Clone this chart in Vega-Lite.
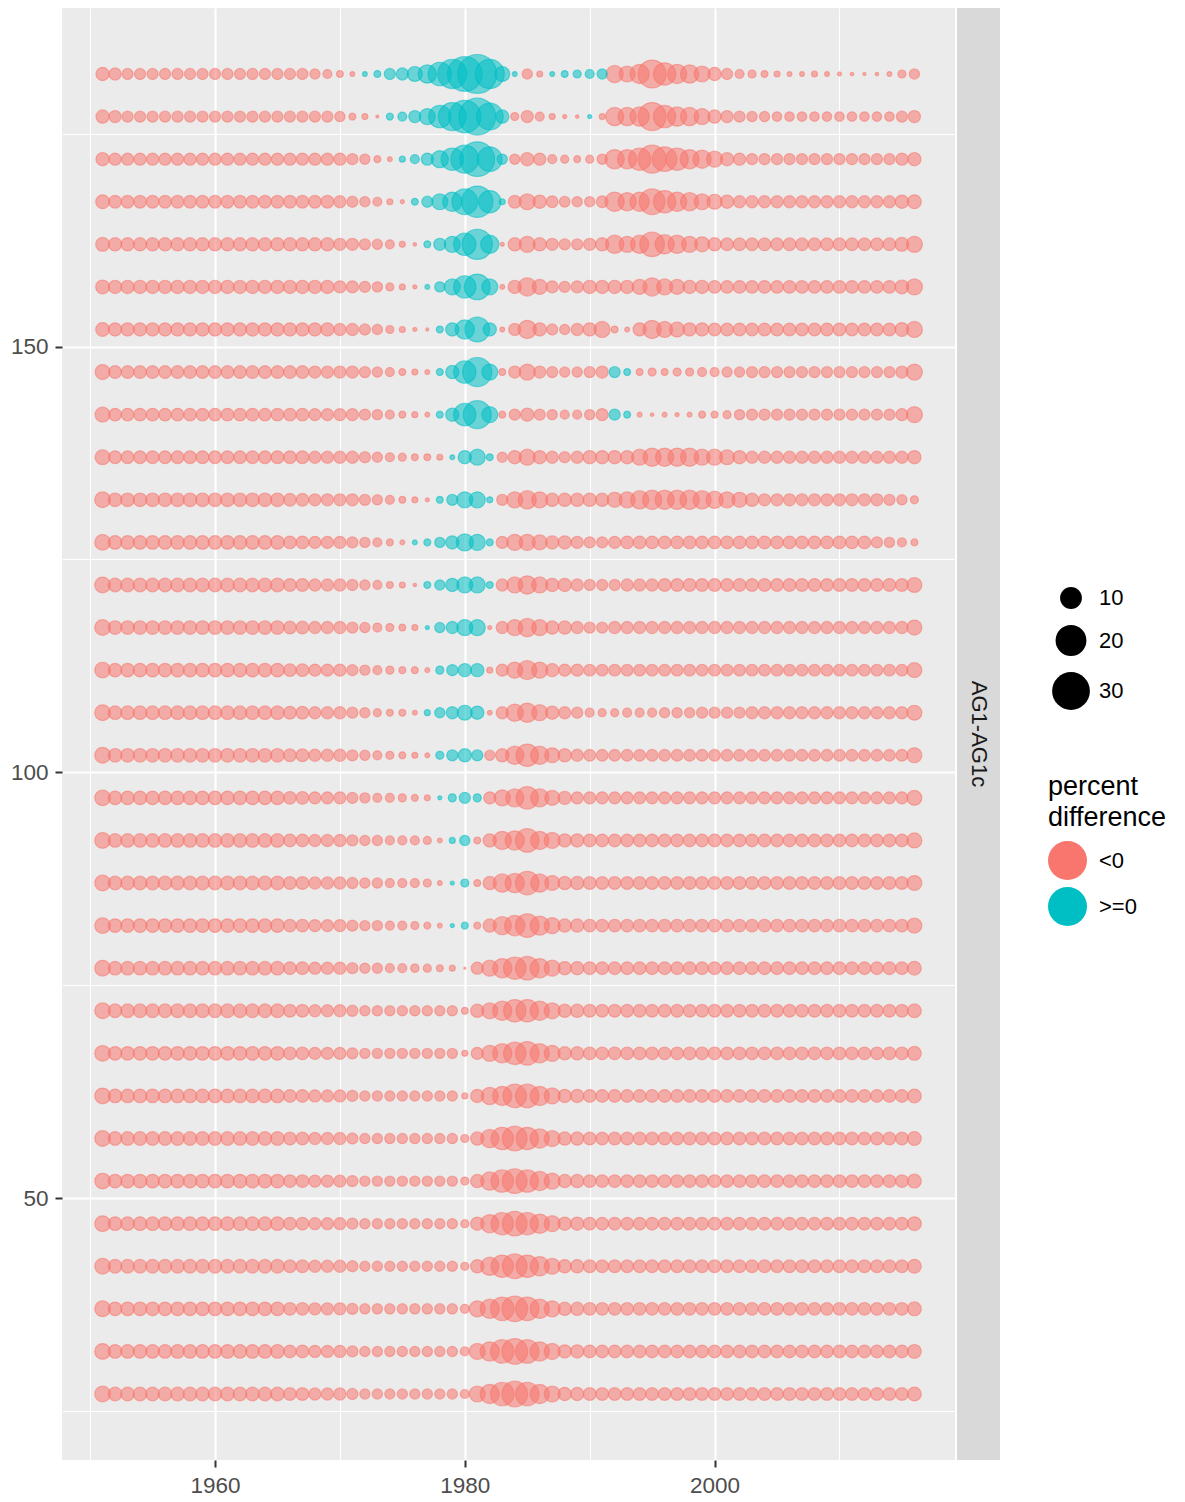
{
"$schema": "https://vega.github.io/schema/vega-lite/v6.json",
"background": "#FFFFFF",
"padding": {"left": 10, "top": 8, "right": 5, "bottom": 5},
"config": {"view": {"stroke": null}, "font": "Liberation Sans"},
"datasets": {
"neg": [
{"x":1951,"y":182,"s":3.7},{"x":1952,"y":182,"s":3.1},{"x":1953,"y":182,"s":2.6},{"x":1954,"y":182,"s":2.6},{"x":1955,"y":182,"s":2.6},{"x":1956,"y":182,"s":2.6},{"x":1957,"y":182,"s":2.6},{"x":1958,"y":182,"s":2.6},{"x":1959,"y":182,"s":2.6},{"x":1960,"y":182,"s":2.6},{"x":1961,"y":182,"s":2.6},{"x":1962,"y":182,"s":2.6},{"x":1963,"y":182,"s":2.6},{"x":1964,"y":182,"s":2.6},{"x":1965,"y":182,"s":2.6},{"x":1966,"y":182,"s":2.6},{"x":1967,"y":182,"s":2.6},{"x":1968,"y":182,"s":2.2},{"x":1969,"y":182,"s":1.7},{"x":1970,"y":182,"s":1},{"x":1971,"y":182,"s":0.5},{"x":1985,"y":182,"s":2.2},{"x":1986,"y":182,"s":0.75},{"x":1992,"y":182,"s":6.2},{"x":1993,"y":182,"s":5.4},{"x":1994,"y":182,"s":7.8},{"x":1995,"y":182,"s":16.4},{"x":1996,"y":182,"s":10.5},{"x":1997,"y":182,"s":7.8},{"x":1998,"y":182,"s":7},{"x":1999,"y":182,"s":5.4},{"x":2000,"y":182,"s":3.7},{"x":2001,"y":182,"s":2.6},{"x":2002,"y":182,"s":1.7},{"x":2003,"y":182,"s":1.35},{"x":2004,"y":182,"s":1},{"x":2005,"y":182,"s":0.75},{"x":2006,"y":182,"s":0.5},{"x":2007,"y":182,"s":0.5},{"x":2008,"y":182,"s":0.75},{"x":2009,"y":182,"s":0.5},{"x":2010,"y":182,"s":0.35},{"x":2011,"y":182,"s":0.25},{"x":2012,"y":182,"s":0.2},{"x":2013,"y":182,"s":0.25},{"x":2014,"y":182,"s":0.5},{"x":2015,"y":182,"s":1.35},{"x":2016,"y":182,"s":2.2},
{"x":1951,"y":177,"s":3.7},{"x":1952,"y":177,"s":3.1},{"x":1953,"y":177,"s":2.6},{"x":1954,"y":177,"s":2.6},{"x":1955,"y":177,"s":2.6},{"x":1956,"y":177,"s":2.6},{"x":1957,"y":177,"s":2.6},{"x":1958,"y":177,"s":2.6},{"x":1959,"y":177,"s":2.6},{"x":1960,"y":177,"s":2.6},{"x":1961,"y":177,"s":2.6},{"x":1962,"y":177,"s":2.6},{"x":1963,"y":177,"s":2.6},{"x":1964,"y":177,"s":2.6},{"x":1965,"y":177,"s":2.6},{"x":1966,"y":177,"s":2.6},{"x":1967,"y":177,"s":2.6},{"x":1968,"y":177,"s":2.6},{"x":1969,"y":177,"s":2.6},{"x":1970,"y":177,"s":2.2},{"x":1971,"y":177,"s":1},{"x":1972,"y":177,"s":0.75},{"x":1973,"y":177,"s":0.2},{"x":1984,"y":177,"s":1.35},{"x":1985,"y":177,"s":3.1},{"x":1986,"y":177,"s":1.7},{"x":1987,"y":177,"s":0.75},{"x":1988,"y":177,"s":0.35},{"x":1989,"y":177,"s":0.25},{"x":1991,"y":177,"s":0.75},{"x":1992,"y":177,"s":7},{"x":1993,"y":177,"s":7},{"x":1994,"y":177,"s":7.8},{"x":1995,"y":177,"s":16.4},{"x":1996,"y":177,"s":10.5},{"x":1997,"y":177,"s":7.8},{"x":1998,"y":177,"s":7},{"x":1999,"y":177,"s":5.4},{"x":2000,"y":177,"s":3.7},{"x":2001,"y":177,"s":3.1},{"x":2002,"y":177,"s":2.6},{"x":2003,"y":177,"s":2.2},{"x":2004,"y":177,"s":2.2},{"x":2005,"y":177,"s":1.9},{"x":2006,"y":177,"s":1.9},{"x":2007,"y":177,"s":1.9},{"x":2008,"y":177,"s":1.9},{"x":2009,"y":177,"s":1.9},{"x":2010,"y":177,"s":1.9},{"x":2011,"y":177,"s":1.9},{"x":2012,"y":177,"s":1.9},{"x":2013,"y":177,"s":1.9},{"x":2014,"y":177,"s":1.9},{"x":2015,"y":177,"s":2.6},{"x":2016,"y":177,"s":3.1},
{"x":1951,"y":172,"s":3.7},{"x":1952,"y":172,"s":3.1},{"x":1953,"y":172,"s":3.1},{"x":1954,"y":172,"s":3.1},{"x":1955,"y":172,"s":3.1},{"x":1956,"y":172,"s":3.1},{"x":1957,"y":172,"s":3.1},{"x":1958,"y":172,"s":3.1},{"x":1959,"y":172,"s":3.1},{"x":1960,"y":172,"s":3.1},{"x":1961,"y":172,"s":3.1},{"x":1962,"y":172,"s":3.1},{"x":1963,"y":172,"s":3.1},{"x":1964,"y":172,"s":3.1},{"x":1965,"y":172,"s":3.1},{"x":1966,"y":172,"s":3.1},{"x":1967,"y":172,"s":3.1},{"x":1968,"y":172,"s":3.1},{"x":1969,"y":172,"s":3.1},{"x":1970,"y":172,"s":3.1},{"x":1971,"y":172,"s":2.6},{"x":1972,"y":172,"s":2.2},{"x":1973,"y":172,"s":1},{"x":1974,"y":172,"s":0.5},{"x":1984,"y":172,"s":2.2},{"x":1985,"y":172,"s":3.7},{"x":1986,"y":172,"s":3.1},{"x":1987,"y":172,"s":1.7},{"x":1988,"y":172,"s":1.35},{"x":1989,"y":172,"s":1},{"x":1990,"y":172,"s":1.35},{"x":1991,"y":172,"s":2.2},{"x":1992,"y":172,"s":7.8},{"x":1993,"y":172,"s":7.8},{"x":1994,"y":172,"s":10.5},{"x":1995,"y":172,"s":16.4},{"x":1996,"y":172,"s":12.8},{"x":1997,"y":172,"s":10.5},{"x":1998,"y":172,"s":7.8},{"x":1999,"y":172,"s":7},{"x":2000,"y":172,"s":5.4},{"x":2001,"y":172,"s":3.7},{"x":2002,"y":172,"s":3.1},{"x":2003,"y":172,"s":2.6},{"x":2004,"y":172,"s":2.6},{"x":2005,"y":172,"s":2.6},{"x":2006,"y":172,"s":2.6},{"x":2007,"y":172,"s":2.6},{"x":2008,"y":172,"s":2.6},{"x":2009,"y":172,"s":2.6},{"x":2010,"y":172,"s":2.6},{"x":2011,"y":172,"s":2.6},{"x":2012,"y":172,"s":2.6},{"x":2013,"y":172,"s":2.6},{"x":2014,"y":172,"s":2.6},{"x":2015,"y":172,"s":3.1},{"x":2016,"y":172,"s":3.7},
{"x":1951,"y":167,"s":4},{"x":1952,"y":167,"s":3.4},{"x":1953,"y":167,"s":3.4},{"x":1954,"y":167,"s":3.4},{"x":1955,"y":167,"s":3.4},{"x":1956,"y":167,"s":3.4},{"x":1957,"y":167,"s":3.4},{"x":1958,"y":167,"s":3.4},{"x":1959,"y":167,"s":3.4},{"x":1960,"y":167,"s":3.4},{"x":1961,"y":167,"s":3.4},{"x":1962,"y":167,"s":3.4},{"x":1963,"y":167,"s":3.4},{"x":1964,"y":167,"s":3.4},{"x":1965,"y":167,"s":3.4},{"x":1966,"y":167,"s":3.4},{"x":1967,"y":167,"s":3.4},{"x":1968,"y":167,"s":3.4},{"x":1969,"y":167,"s":3.4},{"x":1970,"y":167,"s":3.1},{"x":1971,"y":167,"s":2.6},{"x":1972,"y":167,"s":2.2},{"x":1973,"y":167,"s":1.7},{"x":1974,"y":167,"s":0.75},{"x":1975,"y":167,"s":0.35},{"x":1984,"y":167,"s":3.4},{"x":1985,"y":167,"s":5.4},{"x":1986,"y":167,"s":3.7},{"x":1987,"y":167,"s":2.9},{"x":1988,"y":167,"s":2.4},{"x":1989,"y":167,"s":2.2},{"x":1990,"y":167,"s":2.2},{"x":1991,"y":167,"s":2.9},{"x":1992,"y":167,"s":7.8},{"x":1993,"y":167,"s":7},{"x":1994,"y":167,"s":7.8},{"x":1995,"y":167,"s":13.9},{"x":1996,"y":167,"s":10.5},{"x":1997,"y":167,"s":7.8},{"x":1998,"y":167,"s":7},{"x":1999,"y":167,"s":5.4},{"x":2000,"y":167,"s":4.7},{"x":2001,"y":167,"s":3.7},{"x":2002,"y":167,"s":3.1},{"x":2003,"y":167,"s":3.1},{"x":2004,"y":167,"s":3.1},{"x":2005,"y":167,"s":3.1},{"x":2006,"y":167,"s":3.1},{"x":2007,"y":167,"s":3.1},{"x":2008,"y":167,"s":3.1},{"x":2009,"y":167,"s":3.1},{"x":2010,"y":167,"s":3.1},{"x":2011,"y":167,"s":3.1},{"x":2012,"y":167,"s":3.1},{"x":2013,"y":167,"s":3.1},{"x":2014,"y":167,"s":3.1},{"x":2015,"y":167,"s":3.7},{"x":2016,"y":167,"s":4},
{"x":1951,"y":162,"s":4},{"x":1952,"y":162,"s":3.7},{"x":1953,"y":162,"s":3.7},{"x":1954,"y":162,"s":3.7},{"x":1955,"y":162,"s":3.7},{"x":1956,"y":162,"s":3.7},{"x":1957,"y":162,"s":3.7},{"x":1958,"y":162,"s":3.7},{"x":1959,"y":162,"s":3.7},{"x":1960,"y":162,"s":3.7},{"x":1961,"y":162,"s":3.7},{"x":1962,"y":162,"s":3.7},{"x":1963,"y":162,"s":3.7},{"x":1964,"y":162,"s":3.7},{"x":1965,"y":162,"s":3.7},{"x":1966,"y":162,"s":3.7},{"x":1967,"y":162,"s":3.7},{"x":1968,"y":162,"s":3.7},{"x":1969,"y":162,"s":3.7},{"x":1970,"y":162,"s":3.1},{"x":1971,"y":162,"s":3.1},{"x":1972,"y":162,"s":2.6},{"x":1973,"y":162,"s":2.2},{"x":1974,"y":162,"s":1.7},{"x":1975,"y":162,"s":0.75},{"x":1976,"y":162,"s":0.25},{"x":1983,"y":162,"s":0.35},{"x":1984,"y":162,"s":3.7},{"x":1985,"y":162,"s":5.4},{"x":1986,"y":162,"s":3.7},{"x":1987,"y":162,"s":3.1},{"x":1988,"y":162,"s":2.6},{"x":1989,"y":162,"s":2.6},{"x":1990,"y":162,"s":3.1},{"x":1991,"y":162,"s":3.7},{"x":1992,"y":162,"s":7},{"x":1993,"y":162,"s":5.4},{"x":1994,"y":162,"s":7},{"x":1995,"y":162,"s":12.8},{"x":1996,"y":162,"s":7.8},{"x":1997,"y":162,"s":7},{"x":1998,"y":162,"s":5.4},{"x":1999,"y":162,"s":4.7},{"x":2000,"y":162,"s":3.7},{"x":2001,"y":162,"s":3.4},{"x":2002,"y":162,"s":3.4},{"x":2003,"y":162,"s":3.4},{"x":2004,"y":162,"s":3.4},{"x":2005,"y":162,"s":3.4},{"x":2006,"y":162,"s":3.4},{"x":2007,"y":162,"s":3.4},{"x":2008,"y":162,"s":3.4},{"x":2009,"y":162,"s":3.4},{"x":2010,"y":162,"s":3.4},{"x":2011,"y":162,"s":3.4},{"x":2012,"y":162,"s":3.4},{"x":2013,"y":162,"s":3.4},{"x":2014,"y":162,"s":3.4},{"x":2015,"y":162,"s":4},{"x":2016,"y":162,"s":5.4},
{"x":1951,"y":157,"s":4},{"x":1952,"y":157,"s":3.7},{"x":1953,"y":157,"s":3.7},{"x":1954,"y":157,"s":3.7},{"x":1955,"y":157,"s":3.7},{"x":1956,"y":157,"s":3.7},{"x":1957,"y":157,"s":3.7},{"x":1958,"y":157,"s":3.7},{"x":1959,"y":157,"s":3.7},{"x":1960,"y":157,"s":3.7},{"x":1961,"y":157,"s":3.7},{"x":1962,"y":157,"s":3.7},{"x":1963,"y":157,"s":3.7},{"x":1964,"y":157,"s":3.7},{"x":1965,"y":157,"s":3.7},{"x":1966,"y":157,"s":3.7},{"x":1967,"y":157,"s":3.7},{"x":1968,"y":157,"s":3.7},{"x":1969,"y":157,"s":3.7},{"x":1970,"y":157,"s":3.1},{"x":1971,"y":157,"s":3.1},{"x":1972,"y":157,"s":2.6},{"x":1973,"y":157,"s":2.2},{"x":1974,"y":157,"s":1.35},{"x":1975,"y":157,"s":0.75},{"x":1976,"y":157,"s":0.35},{"x":1983,"y":157,"s":0.5},{"x":1984,"y":157,"s":3.7},{"x":1985,"y":157,"s":7},{"x":1986,"y":157,"s":4.7},{"x":1987,"y":157,"s":3.1},{"x":1988,"y":157,"s":2.6},{"x":1989,"y":157,"s":3.1},{"x":1990,"y":157,"s":3.7},{"x":1991,"y":157,"s":3.7},{"x":1992,"y":157,"s":3.7},{"x":1993,"y":157,"s":3.7},{"x":1994,"y":157,"s":4.7},{"x":1995,"y":157,"s":7},{"x":1996,"y":157,"s":5.4},{"x":1997,"y":157,"s":4.7},{"x":1998,"y":157,"s":3.7},{"x":1999,"y":157,"s":3.7},{"x":2000,"y":157,"s":3.4},{"x":2001,"y":157,"s":3.4},{"x":2002,"y":157,"s":3.4},{"x":2003,"y":157,"s":3.4},{"x":2004,"y":157,"s":3.4},{"x":2005,"y":157,"s":3.4},{"x":2006,"y":157,"s":3.4},{"x":2007,"y":157,"s":3.4},{"x":2008,"y":157,"s":3.4},{"x":2009,"y":157,"s":3.4},{"x":2010,"y":157,"s":3.4},{"x":2011,"y":157,"s":3.4},{"x":2012,"y":157,"s":3.4},{"x":2013,"y":157,"s":3.4},{"x":2014,"y":157,"s":3.4},{"x":2015,"y":157,"s":4},{"x":2016,"y":157,"s":5.4},
{"x":1951,"y":152,"s":4},{"x":1952,"y":152,"s":3.7},{"x":1953,"y":152,"s":3.7},{"x":1954,"y":152,"s":3.7},{"x":1955,"y":152,"s":3.7},{"x":1956,"y":152,"s":3.7},{"x":1957,"y":152,"s":3.7},{"x":1958,"y":152,"s":3.7},{"x":1959,"y":152,"s":3.7},{"x":1960,"y":152,"s":3.7},{"x":1961,"y":152,"s":3.7},{"x":1962,"y":152,"s":3.7},{"x":1963,"y":152,"s":3.7},{"x":1964,"y":152,"s":3.7},{"x":1965,"y":152,"s":3.7},{"x":1966,"y":152,"s":3.7},{"x":1967,"y":152,"s":3.7},{"x":1968,"y":152,"s":3.7},{"x":1969,"y":152,"s":3.7},{"x":1970,"y":152,"s":3.1},{"x":1971,"y":152,"s":3.1},{"x":1972,"y":152,"s":2.6},{"x":1973,"y":152,"s":2.2},{"x":1974,"y":152,"s":1.35},{"x":1975,"y":152,"s":0.75},{"x":1976,"y":152,"s":0.35},{"x":1977,"y":152,"s":0.2},{"x":1983,"y":152,"s":0.5},{"x":1984,"y":152,"s":3.1},{"x":1985,"y":152,"s":7},{"x":1986,"y":152,"s":3.7},{"x":1987,"y":152,"s":2.6},{"x":1988,"y":152,"s":2.2},{"x":1989,"y":152,"s":3.1},{"x":1990,"y":152,"s":3.7},{"x":1991,"y":152,"s":5.4},{"x":1992,"y":152,"s":1},{"x":1993,"y":152,"s":0.5},{"x":1994,"y":152,"s":3.7},{"x":1995,"y":152,"s":7},{"x":1996,"y":152,"s":5.4},{"x":1997,"y":152,"s":4.7},{"x":1998,"y":152,"s":3.7},{"x":1999,"y":152,"s":3.7},{"x":2000,"y":152,"s":3.4},{"x":2001,"y":152,"s":3.4},{"x":2002,"y":152,"s":3.4},{"x":2003,"y":152,"s":3.4},{"x":2004,"y":152,"s":3.4},{"x":2005,"y":152,"s":3.4},{"x":2006,"y":152,"s":3.4},{"x":2007,"y":152,"s":3.4},{"x":2008,"y":152,"s":3.4},{"x":2009,"y":152,"s":3.4},{"x":2010,"y":152,"s":3.4},{"x":2011,"y":152,"s":3.4},{"x":2012,"y":152,"s":3.4},{"x":2013,"y":152,"s":3.4},{"x":2014,"y":152,"s":3.4},{"x":2015,"y":152,"s":4},{"x":2016,"y":152,"s":5.4},
{"x":1951,"y":147,"s":4.7},{"x":1952,"y":147,"s":3.4},{"x":1953,"y":147,"s":3.4},{"x":1954,"y":147,"s":3.4},{"x":1955,"y":147,"s":3.4},{"x":1956,"y":147,"s":3.4},{"x":1957,"y":147,"s":3.4},{"x":1958,"y":147,"s":3.4},{"x":1959,"y":147,"s":3.4},{"x":1960,"y":147,"s":3.4},{"x":1961,"y":147,"s":3.4},{"x":1962,"y":147,"s":3.4},{"x":1963,"y":147,"s":3.4},{"x":1964,"y":147,"s":3.4},{"x":1965,"y":147,"s":3.4},{"x":1966,"y":147,"s":3.4},{"x":1967,"y":147,"s":3.4},{"x":1968,"y":147,"s":3.1},{"x":1969,"y":147,"s":3.1},{"x":1970,"y":147,"s":3.1},{"x":1971,"y":147,"s":3.1},{"x":1972,"y":147,"s":2.6},{"x":1973,"y":147,"s":2.2},{"x":1974,"y":147,"s":1.7},{"x":1975,"y":147,"s":1},{"x":1976,"y":147,"s":0.75},{"x":1977,"y":147,"s":0.5},{"x":1983,"y":147,"s":1},{"x":1984,"y":147,"s":3.1},{"x":1985,"y":147,"s":5.4},{"x":1986,"y":147,"s":3.1},{"x":1987,"y":147,"s":2.6},{"x":1988,"y":147,"s":2.2},{"x":1989,"y":147,"s":2.2},{"x":1990,"y":147,"s":2.6},{"x":1991,"y":147,"s":3.1},{"x":1994,"y":147,"s":1},{"x":1995,"y":147,"s":1.35},{"x":1996,"y":147,"s":1},{"x":1997,"y":147,"s":1.35},{"x":1998,"y":147,"s":1.35},{"x":1999,"y":147,"s":1.7},{"x":2000,"y":147,"s":1.7},{"x":2001,"y":147,"s":2.2},{"x":2002,"y":147,"s":2.2},{"x":2003,"y":147,"s":2.6},{"x":2004,"y":147,"s":2.6},{"x":2005,"y":147,"s":2.6},{"x":2006,"y":147,"s":2.6},{"x":2007,"y":147,"s":2.6},{"x":2008,"y":147,"s":2.6},{"x":2009,"y":147,"s":2.6},{"x":2010,"y":147,"s":2.6},{"x":2011,"y":147,"s":2.6},{"x":2012,"y":147,"s":2.6},{"x":2013,"y":147,"s":2.6},{"x":2014,"y":147,"s":2.6},{"x":2015,"y":147,"s":3.1},{"x":2016,"y":147,"s":5.4},
{"x":1951,"y":142,"s":4.7},{"x":1952,"y":142,"s":3.4},{"x":1953,"y":142,"s":3.4},{"x":1954,"y":142,"s":3.4},{"x":1955,"y":142,"s":3.4},{"x":1956,"y":142,"s":3.4},{"x":1957,"y":142,"s":3.4},{"x":1958,"y":142,"s":3.4},{"x":1959,"y":142,"s":3.4},{"x":1960,"y":142,"s":3.4},{"x":1961,"y":142,"s":3.4},{"x":1962,"y":142,"s":3.4},{"x":1963,"y":142,"s":3.4},{"x":1964,"y":142,"s":3.4},{"x":1965,"y":142,"s":3.4},{"x":1966,"y":142,"s":3.4},{"x":1967,"y":142,"s":3.4},{"x":1968,"y":142,"s":3.1},{"x":1969,"y":142,"s":3.1},{"x":1970,"y":142,"s":3.1},{"x":1971,"y":142,"s":3.1},{"x":1972,"y":142,"s":2.6},{"x":1973,"y":142,"s":2.2},{"x":1974,"y":142,"s":1.7},{"x":1975,"y":142,"s":1},{"x":1976,"y":142,"s":0.75},{"x":1977,"y":142,"s":0.5},{"x":1983,"y":142,"s":1},{"x":1984,"y":142,"s":2.6},{"x":1985,"y":142,"s":3.7},{"x":1986,"y":142,"s":2.6},{"x":1987,"y":142,"s":2.2},{"x":1988,"y":142,"s":1.7},{"x":1989,"y":142,"s":1.7},{"x":1990,"y":142,"s":2.2},{"x":1991,"y":142,"s":3.1},{"x":1994,"y":142,"s":0.5},{"x":1995,"y":142,"s":0.25},{"x":1996,"y":142,"s":0.5},{"x":1997,"y":142,"s":0.35},{"x":1998,"y":142,"s":0.5},{"x":1999,"y":142,"s":1},{"x":2000,"y":142,"s":1},{"x":2001,"y":142,"s":1.35},{"x":2002,"y":142,"s":2.2},{"x":2003,"y":142,"s":2.6},{"x":2004,"y":142,"s":2.6},{"x":2005,"y":142,"s":2.6},{"x":2006,"y":142,"s":2.6},{"x":2007,"y":142,"s":2.6},{"x":2008,"y":142,"s":2.6},{"x":2009,"y":142,"s":2.6},{"x":2010,"y":142,"s":2.6},{"x":2011,"y":142,"s":2.6},{"x":2012,"y":142,"s":2.6},{"x":2013,"y":142,"s":2.6},{"x":2014,"y":142,"s":2.6},{"x":2015,"y":142,"s":3.1},{"x":2016,"y":142,"s":5.4},
{"x":1951,"y":137,"s":4.7},{"x":1952,"y":137,"s":3.4},{"x":1953,"y":137,"s":3.4},{"x":1954,"y":137,"s":3.4},{"x":1955,"y":137,"s":3.4},{"x":1956,"y":137,"s":3.4},{"x":1957,"y":137,"s":3.4},{"x":1958,"y":137,"s":3.4},{"x":1959,"y":137,"s":3.4},{"x":1960,"y":137,"s":3.4},{"x":1961,"y":137,"s":3.4},{"x":1962,"y":137,"s":3.4},{"x":1963,"y":137,"s":3.4},{"x":1964,"y":137,"s":3.4},{"x":1965,"y":137,"s":3.4},{"x":1966,"y":137,"s":3.4},{"x":1967,"y":137,"s":3.4},{"x":1968,"y":137,"s":3.1},{"x":1969,"y":137,"s":3.1},{"x":1970,"y":137,"s":3.1},{"x":1971,"y":137,"s":3.1},{"x":1972,"y":137,"s":2.6},{"x":1973,"y":137,"s":2.2},{"x":1974,"y":137,"s":1.7},{"x":1975,"y":137,"s":1.35},{"x":1976,"y":137,"s":1},{"x":1977,"y":137,"s":1},{"x":1978,"y":137,"s":0.75},{"x":1983,"y":137,"s":2.2},{"x":1984,"y":137,"s":3.7},{"x":1985,"y":137,"s":5.4},{"x":1986,"y":137,"s":3.7},{"x":1987,"y":137,"s":3.1},{"x":1988,"y":137,"s":2.6},{"x":1989,"y":137,"s":3.1},{"x":1990,"y":137,"s":3.7},{"x":1991,"y":137,"s":3.7},{"x":1992,"y":137,"s":3.7},{"x":1993,"y":137,"s":3.7},{"x":1994,"y":137,"s":5.4},{"x":1995,"y":137,"s":7},{"x":1996,"y":137,"s":7},{"x":1997,"y":137,"s":7},{"x":1998,"y":137,"s":7},{"x":1999,"y":137,"s":5.4},{"x":2000,"y":137,"s":5.4},{"x":2001,"y":137,"s":4.7},{"x":2002,"y":137,"s":3.7},{"x":2003,"y":137,"s":3.1},{"x":2004,"y":137,"s":3.1},{"x":2005,"y":137,"s":3.1},{"x":2006,"y":137,"s":3.1},{"x":2007,"y":137,"s":3.1},{"x":2008,"y":137,"s":3.1},{"x":2009,"y":137,"s":3.1},{"x":2010,"y":137,"s":3.1},{"x":2011,"y":137,"s":3.1},{"x":2012,"y":137,"s":3.1},{"x":2013,"y":137,"s":3.1},{"x":2014,"y":137,"s":3.1},{"x":2015,"y":137,"s":3.1},{"x":2016,"y":137,"s":3.7},
{"x":1951,"y":132,"s":5.2},{"x":1952,"y":132,"s":3.9},{"x":1953,"y":132,"s":3.9},{"x":1954,"y":132,"s":3.9},{"x":1955,"y":132,"s":3.9},{"x":1956,"y":132,"s":3.9},{"x":1957,"y":132,"s":3.9},{"x":1958,"y":132,"s":3.9},{"x":1959,"y":132,"s":3.9},{"x":1960,"y":132,"s":3.9},{"x":1961,"y":132,"s":3.9},{"x":1962,"y":132,"s":3.9},{"x":1963,"y":132,"s":3.9},{"x":1964,"y":132,"s":3.9},{"x":1965,"y":132,"s":3.9},{"x":1966,"y":132,"s":3.4},{"x":1967,"y":132,"s":3.4},{"x":1968,"y":132,"s":3.1},{"x":1969,"y":132,"s":3.1},{"x":1970,"y":132,"s":3.1},{"x":1971,"y":132,"s":3.1},{"x":1972,"y":132,"s":2.6},{"x":1973,"y":132,"s":2.2},{"x":1974,"y":132,"s":1.7},{"x":1975,"y":132,"s":1},{"x":1976,"y":132,"s":0.75},{"x":1977,"y":132,"s":0.35},{"x":1983,"y":132,"s":2.6},{"x":1984,"y":132,"s":5.4},{"x":1985,"y":132,"s":7},{"x":1986,"y":132,"s":5.4},{"x":1987,"y":132,"s":3.7},{"x":1988,"y":132,"s":3.7},{"x":1989,"y":132,"s":3.7},{"x":1990,"y":132,"s":3.7},{"x":1991,"y":132,"s":3.7},{"x":1992,"y":132,"s":4.7},{"x":1993,"y":132,"s":5.4},{"x":1994,"y":132,"s":7},{"x":1995,"y":132,"s":7.8},{"x":1996,"y":132,"s":7.8},{"x":1997,"y":132,"s":7.8},{"x":1998,"y":132,"s":7.8},{"x":1999,"y":132,"s":7},{"x":2000,"y":132,"s":6.2},{"x":2001,"y":132,"s":5.4},{"x":2002,"y":132,"s":4.7},{"x":2003,"y":132,"s":3.7},{"x":2004,"y":132,"s":3.1},{"x":2005,"y":132,"s":3.1},{"x":2006,"y":132,"s":3.1},{"x":2007,"y":132,"s":3.1},{"x":2008,"y":132,"s":3.1},{"x":2009,"y":132,"s":3.1},{"x":2010,"y":132,"s":3.1},{"x":2011,"y":132,"s":3.1},{"x":2012,"y":132,"s":3.1},{"x":2013,"y":132,"s":3.1},{"x":2014,"y":132,"s":2.6},{"x":2015,"y":132,"s":2.2},{"x":2016,"y":132,"s":1.35},
{"x":1951,"y":127,"s":5.2},{"x":1952,"y":127,"s":3.9},{"x":1953,"y":127,"s":3.9},{"x":1954,"y":127,"s":3.9},{"x":1955,"y":127,"s":3.9},{"x":1956,"y":127,"s":3.9},{"x":1957,"y":127,"s":3.9},{"x":1958,"y":127,"s":3.9},{"x":1959,"y":127,"s":3.9},{"x":1960,"y":127,"s":3.9},{"x":1961,"y":127,"s":3.9},{"x":1962,"y":127,"s":3.9},{"x":1963,"y":127,"s":3.9},{"x":1964,"y":127,"s":3.9},{"x":1965,"y":127,"s":3.9},{"x":1966,"y":127,"s":3.4},{"x":1967,"y":127,"s":3.4},{"x":1968,"y":127,"s":3.1},{"x":1969,"y":127,"s":3.1},{"x":1970,"y":127,"s":3.1},{"x":1971,"y":127,"s":2.6},{"x":1972,"y":127,"s":2.2},{"x":1973,"y":127,"s":1.7},{"x":1974,"y":127,"s":1},{"x":1975,"y":127,"s":0.5},{"x":1983,"y":127,"s":3.1},{"x":1984,"y":127,"s":5.4},{"x":1985,"y":127,"s":5.4},{"x":1986,"y":127,"s":4.7},{"x":1987,"y":127,"s":3.7},{"x":1988,"y":127,"s":3.7},{"x":1989,"y":127,"s":3.1},{"x":1990,"y":127,"s":2.6},{"x":1991,"y":127,"s":2.6},{"x":1992,"y":127,"s":3.1},{"x":1993,"y":127,"s":3.4},{"x":1994,"y":127,"s":3.4},{"x":1995,"y":127,"s":3.4},{"x":1996,"y":127,"s":3.4},{"x":1997,"y":127,"s":3.4},{"x":1998,"y":127,"s":3.4},{"x":1999,"y":127,"s":3.4},{"x":2000,"y":127,"s":3.4},{"x":2001,"y":127,"s":3.4},{"x":2002,"y":127,"s":3.4},{"x":2003,"y":127,"s":3.4},{"x":2004,"y":127,"s":3.4},{"x":2005,"y":127,"s":3.4},{"x":2006,"y":127,"s":3.4},{"x":2007,"y":127,"s":3.4},{"x":2008,"y":127,"s":3.4},{"x":2009,"y":127,"s":3.4},{"x":2010,"y":127,"s":3.4},{"x":2011,"y":127,"s":3.4},{"x":2012,"y":127,"s":3.4},{"x":2013,"y":127,"s":2.6},{"x":2014,"y":127,"s":2.2},{"x":2015,"y":127,"s":1.7},{"x":2016,"y":127,"s":1},
{"x":1951,"y":122,"s":5.2},{"x":1952,"y":122,"s":3.9},{"x":1953,"y":122,"s":3.9},{"x":1954,"y":122,"s":3.9},{"x":1955,"y":122,"s":3.9},{"x":1956,"y":122,"s":3.9},{"x":1957,"y":122,"s":3.9},{"x":1958,"y":122,"s":3.9},{"x":1959,"y":122,"s":3.9},{"x":1960,"y":122,"s":3.9},{"x":1961,"y":122,"s":3.9},{"x":1962,"y":122,"s":3.9},{"x":1963,"y":122,"s":3.9},{"x":1964,"y":122,"s":3.9},{"x":1965,"y":122,"s":3.9},{"x":1966,"y":122,"s":3.4},{"x":1967,"y":122,"s":3.4},{"x":1968,"y":122,"s":3.1},{"x":1969,"y":122,"s":3.1},{"x":1970,"y":122,"s":3.1},{"x":1971,"y":122,"s":2.6},{"x":1972,"y":122,"s":2.2},{"x":1973,"y":122,"s":1.7},{"x":1974,"y":122,"s":1},{"x":1975,"y":122,"s":0.75},{"x":1976,"y":122,"s":0.25},{"x":1983,"y":122,"s":3.1},{"x":1984,"y":122,"s":5.4},{"x":1985,"y":122,"s":7},{"x":1986,"y":122,"s":5.4},{"x":1987,"y":122,"s":3.7},{"x":1988,"y":122,"s":3.7},{"x":1989,"y":122,"s":3.1},{"x":1990,"y":122,"s":2.6},{"x":1991,"y":122,"s":2.6},{"x":1992,"y":122,"s":2.6},{"x":1993,"y":122,"s":3.1},{"x":1994,"y":122,"s":3.1},{"x":1995,"y":122,"s":3.1},{"x":1996,"y":122,"s":3.4},{"x":1997,"y":122,"s":3.4},{"x":1998,"y":122,"s":3.4},{"x":1999,"y":122,"s":3.4},{"x":2000,"y":122,"s":3.4},{"x":2001,"y":122,"s":3.4},{"x":2002,"y":122,"s":3.4},{"x":2003,"y":122,"s":3.4},{"x":2004,"y":122,"s":3.4},{"x":2005,"y":122,"s":3.4},{"x":2006,"y":122,"s":3.4},{"x":2007,"y":122,"s":3.4},{"x":2008,"y":122,"s":3.4},{"x":2009,"y":122,"s":3.4},{"x":2010,"y":122,"s":3.4},{"x":2011,"y":122,"s":3.4},{"x":2012,"y":122,"s":3.4},{"x":2013,"y":122,"s":3.4},{"x":2014,"y":122,"s":3.4},{"x":2015,"y":122,"s":3.4},{"x":2016,"y":122,"s":4.7},
{"x":1951,"y":117,"s":5.2},{"x":1952,"y":117,"s":3.9},{"x":1953,"y":117,"s":3.9},{"x":1954,"y":117,"s":3.9},{"x":1955,"y":117,"s":3.9},{"x":1956,"y":117,"s":3.9},{"x":1957,"y":117,"s":3.9},{"x":1958,"y":117,"s":3.9},{"x":1959,"y":117,"s":3.9},{"x":1960,"y":117,"s":3.9},{"x":1961,"y":117,"s":3.9},{"x":1962,"y":117,"s":3.9},{"x":1963,"y":117,"s":3.9},{"x":1964,"y":117,"s":3.9},{"x":1965,"y":117,"s":3.9},{"x":1966,"y":117,"s":3.4},{"x":1967,"y":117,"s":3.4},{"x":1968,"y":117,"s":3.1},{"x":1969,"y":117,"s":3.1},{"x":1970,"y":117,"s":3.1},{"x":1971,"y":117,"s":2.6},{"x":1972,"y":117,"s":2.2},{"x":1973,"y":117,"s":1.7},{"x":1974,"y":117,"s":1.35},{"x":1975,"y":117,"s":1},{"x":1976,"y":117,"s":0.75},{"x":1982,"y":117,"s":0.35},{"x":1983,"y":117,"s":3.1},{"x":1984,"y":117,"s":5.4},{"x":1985,"y":117,"s":7},{"x":1986,"y":117,"s":5.4},{"x":1987,"y":117,"s":3.7},{"x":1988,"y":117,"s":3.7},{"x":1989,"y":117,"s":3.1},{"x":1990,"y":117,"s":2.6},{"x":1991,"y":117,"s":2.6},{"x":1992,"y":117,"s":3.1},{"x":1993,"y":117,"s":3.1},{"x":1994,"y":117,"s":3.1},{"x":1995,"y":117,"s":3.1},{"x":1996,"y":117,"s":3.1},{"x":1997,"y":117,"s":3.1},{"x":1998,"y":117,"s":3.1},{"x":1999,"y":117,"s":3.1},{"x":2000,"y":117,"s":3.1},{"x":2001,"y":117,"s":3.1},{"x":2002,"y":117,"s":3.1},{"x":2003,"y":117,"s":3.1},{"x":2004,"y":117,"s":3.1},{"x":2005,"y":117,"s":3.1},{"x":2006,"y":117,"s":3.1},{"x":2007,"y":117,"s":3.1},{"x":2008,"y":117,"s":3.1},{"x":2009,"y":117,"s":3.1},{"x":2010,"y":117,"s":3.1},{"x":2011,"y":117,"s":3.1},{"x":2012,"y":117,"s":3.1},{"x":2013,"y":117,"s":3.1},{"x":2014,"y":117,"s":3.1},{"x":2015,"y":117,"s":3.1},{"x":2016,"y":117,"s":4.7},
{"x":1951,"y":112,"s":5.2},{"x":1952,"y":112,"s":3.9},{"x":1953,"y":112,"s":3.9},{"x":1954,"y":112,"s":3.9},{"x":1955,"y":112,"s":3.9},{"x":1956,"y":112,"s":3.9},{"x":1957,"y":112,"s":3.9},{"x":1958,"y":112,"s":3.9},{"x":1959,"y":112,"s":3.9},{"x":1960,"y":112,"s":3.9},{"x":1961,"y":112,"s":3.9},{"x":1962,"y":112,"s":3.9},{"x":1963,"y":112,"s":3.9},{"x":1964,"y":112,"s":3.9},{"x":1965,"y":112,"s":3.9},{"x":1966,"y":112,"s":3.4},{"x":1967,"y":112,"s":3.4},{"x":1968,"y":112,"s":3.1},{"x":1969,"y":112,"s":3.1},{"x":1970,"y":112,"s":3.1},{"x":1971,"y":112,"s":2.6},{"x":1972,"y":112,"s":2.2},{"x":1973,"y":112,"s":1.7},{"x":1974,"y":112,"s":1.35},{"x":1975,"y":112,"s":1},{"x":1976,"y":112,"s":1},{"x":1977,"y":112,"s":0.5},{"x":1982,"y":112,"s":0.75},{"x":1983,"y":112,"s":3.1},{"x":1984,"y":112,"s":5.4},{"x":1985,"y":112,"s":7.8},{"x":1986,"y":112,"s":5.4},{"x":1987,"y":112,"s":3.7},{"x":1988,"y":112,"s":3.1},{"x":1989,"y":112,"s":3.1},{"x":1990,"y":112,"s":2.9},{"x":1991,"y":112,"s":2.9},{"x":1992,"y":112,"s":2.9},{"x":1993,"y":112,"s":2.9},{"x":1994,"y":112,"s":2.9},{"x":1995,"y":112,"s":2.9},{"x":1996,"y":112,"s":2.9},{"x":1997,"y":112,"s":2.9},{"x":1998,"y":112,"s":2.9},{"x":1999,"y":112,"s":2.9},{"x":2000,"y":112,"s":2.9},{"x":2001,"y":112,"s":2.9},{"x":2002,"y":112,"s":2.9},{"x":2003,"y":112,"s":2.9},{"x":2004,"y":112,"s":2.9},{"x":2005,"y":112,"s":2.9},{"x":2006,"y":112,"s":2.9},{"x":2007,"y":112,"s":2.9},{"x":2008,"y":112,"s":2.9},{"x":2009,"y":112,"s":2.9},{"x":2010,"y":112,"s":2.9},{"x":2011,"y":112,"s":2.9},{"x":2012,"y":112,"s":2.9},{"x":2013,"y":112,"s":2.9},{"x":2014,"y":112,"s":2.9},{"x":2015,"y":112,"s":2.9},{"x":2016,"y":112,"s":4.7},
{"x":1951,"y":107,"s":5.2},{"x":1952,"y":107,"s":3.9},{"x":1953,"y":107,"s":3.9},{"x":1954,"y":107,"s":3.9},{"x":1955,"y":107,"s":3.9},{"x":1956,"y":107,"s":3.9},{"x":1957,"y":107,"s":3.9},{"x":1958,"y":107,"s":3.9},{"x":1959,"y":107,"s":3.9},{"x":1960,"y":107,"s":3.9},{"x":1961,"y":107,"s":3.9},{"x":1962,"y":107,"s":3.9},{"x":1963,"y":107,"s":3.9},{"x":1964,"y":107,"s":3.9},{"x":1965,"y":107,"s":3.9},{"x":1966,"y":107,"s":3.4},{"x":1967,"y":107,"s":3.4},{"x":1968,"y":107,"s":3.1},{"x":1969,"y":107,"s":3.1},{"x":1970,"y":107,"s":3.1},{"x":1971,"y":107,"s":2.6},{"x":1972,"y":107,"s":2.2},{"x":1973,"y":107,"s":1.35},{"x":1974,"y":107,"s":1},{"x":1975,"y":107,"s":1},{"x":1976,"y":107,"s":0.5},{"x":1982,"y":107,"s":0.5},{"x":1983,"y":107,"s":3.1},{"x":1984,"y":107,"s":6.2},{"x":1985,"y":107,"s":7.8},{"x":1986,"y":107,"s":5.4},{"x":1987,"y":107,"s":3.7},{"x":1988,"y":107,"s":3.1},{"x":1989,"y":107,"s":2.6},{"x":1990,"y":107,"s":1.7},{"x":1991,"y":107,"s":1.35},{"x":1992,"y":107,"s":1.35},{"x":1993,"y":107,"s":1.7},{"x":1994,"y":107,"s":1.7},{"x":1995,"y":107,"s":1.7},{"x":1996,"y":107,"s":2.2},{"x":1997,"y":107,"s":2.2},{"x":1998,"y":107,"s":2.2},{"x":1999,"y":107,"s":2.6},{"x":2000,"y":107,"s":2.6},{"x":2001,"y":107,"s":2.6},{"x":2002,"y":107,"s":2.6},{"x":2003,"y":107,"s":3.1},{"x":2004,"y":107,"s":3.1},{"x":2005,"y":107,"s":3.1},{"x":2006,"y":107,"s":3.1},{"x":2007,"y":107,"s":3.1},{"x":2008,"y":107,"s":3.1},{"x":2009,"y":107,"s":3.1},{"x":2010,"y":107,"s":3.1},{"x":2011,"y":107,"s":3.1},{"x":2012,"y":107,"s":3.1},{"x":2013,"y":107,"s":3.1},{"x":2014,"y":107,"s":3.1},{"x":2015,"y":107,"s":3.1},{"x":2016,"y":107,"s":4.7},
{"x":1951,"y":102,"s":5.2},{"x":1952,"y":102,"s":3.9},{"x":1953,"y":102,"s":3.9},{"x":1954,"y":102,"s":3.9},{"x":1955,"y":102,"s":3.9},{"x":1956,"y":102,"s":3.9},{"x":1957,"y":102,"s":3.9},{"x":1958,"y":102,"s":3.9},{"x":1959,"y":102,"s":3.9},{"x":1960,"y":102,"s":3.9},{"x":1961,"y":102,"s":3.9},{"x":1962,"y":102,"s":3.9},{"x":1963,"y":102,"s":3.9},{"x":1964,"y":102,"s":3.9},{"x":1965,"y":102,"s":3.9},{"x":1966,"y":102,"s":3.4},{"x":1967,"y":102,"s":3.4},{"x":1968,"y":102,"s":3.1},{"x":1969,"y":102,"s":3.1},{"x":1970,"y":102,"s":3.1},{"x":1971,"y":102,"s":2.6},{"x":1972,"y":102,"s":2.2},{"x":1973,"y":102,"s":1.7},{"x":1974,"y":102,"s":1.35},{"x":1975,"y":102,"s":1},{"x":1976,"y":102,"s":0.75},{"x":1977,"y":102,"s":0.5},{"x":1982,"y":102,"s":2.2},{"x":1983,"y":102,"s":3.7},{"x":1984,"y":102,"s":7},{"x":1985,"y":102,"s":10.5},{"x":1986,"y":102,"s":7},{"x":1987,"y":102,"s":4.7},{"x":1988,"y":102,"s":3.7},{"x":1989,"y":102,"s":3.1},{"x":1990,"y":102,"s":2.9},{"x":1991,"y":102,"s":2.9},{"x":1992,"y":102,"s":2.9},{"x":1993,"y":102,"s":2.9},{"x":1994,"y":102,"s":2.9},{"x":1995,"y":102,"s":2.9},{"x":1996,"y":102,"s":2.9},{"x":1997,"y":102,"s":2.9},{"x":1998,"y":102,"s":2.9},{"x":1999,"y":102,"s":2.9},{"x":2000,"y":102,"s":2.9},{"x":2001,"y":102,"s":2.9},{"x":2002,"y":102,"s":2.9},{"x":2003,"y":102,"s":2.9},{"x":2004,"y":102,"s":2.9},{"x":2005,"y":102,"s":2.9},{"x":2006,"y":102,"s":2.9},{"x":2007,"y":102,"s":2.9},{"x":2008,"y":102,"s":2.9},{"x":2009,"y":102,"s":2.9},{"x":2010,"y":102,"s":2.9},{"x":2011,"y":102,"s":2.9},{"x":2012,"y":102,"s":2.9},{"x":2013,"y":102,"s":2.9},{"x":2014,"y":102,"s":2.9},{"x":2015,"y":102,"s":2.9},{"x":2016,"y":102,"s":4.7},
{"x":1951,"y":97,"s":5.2},{"x":1952,"y":97,"s":3.9},{"x":1953,"y":97,"s":3.9},{"x":1954,"y":97,"s":3.9},{"x":1955,"y":97,"s":3.9},{"x":1956,"y":97,"s":3.9},{"x":1957,"y":97,"s":3.9},{"x":1958,"y":97,"s":3.9},{"x":1959,"y":97,"s":3.9},{"x":1960,"y":97,"s":3.9},{"x":1961,"y":97,"s":3.9},{"x":1962,"y":97,"s":3.9},{"x":1963,"y":97,"s":3.9},{"x":1964,"y":97,"s":3.9},{"x":1965,"y":97,"s":3.9},{"x":1966,"y":97,"s":3.4},{"x":1967,"y":97,"s":3.4},{"x":1968,"y":97,"s":3.1},{"x":1969,"y":97,"s":3.1},{"x":1970,"y":97,"s":3.1},{"x":1971,"y":97,"s":2.6},{"x":1972,"y":97,"s":2.2},{"x":1973,"y":97,"s":1.7},{"x":1974,"y":97,"s":1.7},{"x":1975,"y":97,"s":1.35},{"x":1976,"y":97,"s":1},{"x":1977,"y":97,"s":0.75},{"x":1982,"y":97,"s":3.1},{"x":1983,"y":97,"s":5.4},{"x":1984,"y":97,"s":7},{"x":1985,"y":97,"s":10.5},{"x":1986,"y":97,"s":7},{"x":1987,"y":97,"s":4.7},{"x":1988,"y":97,"s":3.7},{"x":1989,"y":97,"s":3.1},{"x":1990,"y":97,"s":3.1},{"x":1991,"y":97,"s":3.1},{"x":1992,"y":97,"s":3.1},{"x":1993,"y":97,"s":3.1},{"x":1994,"y":97,"s":3.1},{"x":1995,"y":97,"s":3.1},{"x":1996,"y":97,"s":3.1},{"x":1997,"y":97,"s":3.1},{"x":1998,"y":97,"s":3.1},{"x":1999,"y":97,"s":3.1},{"x":2000,"y":97,"s":3.1},{"x":2001,"y":97,"s":3.1},{"x":2002,"y":97,"s":3.1},{"x":2003,"y":97,"s":3.1},{"x":2004,"y":97,"s":3.1},{"x":2005,"y":97,"s":3.1},{"x":2006,"y":97,"s":3.1},{"x":2007,"y":97,"s":3.1},{"x":2008,"y":97,"s":3.1},{"x":2009,"y":97,"s":3.1},{"x":2010,"y":97,"s":3.1},{"x":2011,"y":97,"s":3.1},{"x":2012,"y":97,"s":3.1},{"x":2013,"y":97,"s":3.1},{"x":2014,"y":97,"s":3.1},{"x":2015,"y":97,"s":3.1},{"x":2016,"y":97,"s":4.7},
{"x":1951,"y":92,"s":5.2},{"x":1952,"y":92,"s":3.9},{"x":1953,"y":92,"s":3.9},{"x":1954,"y":92,"s":3.9},{"x":1955,"y":92,"s":3.9},{"x":1956,"y":92,"s":3.9},{"x":1957,"y":92,"s":3.9},{"x":1958,"y":92,"s":3.9},{"x":1959,"y":92,"s":3.9},{"x":1960,"y":92,"s":3.9},{"x":1961,"y":92,"s":3.9},{"x":1962,"y":92,"s":3.9},{"x":1963,"y":92,"s":3.9},{"x":1964,"y":92,"s":3.9},{"x":1965,"y":92,"s":3.9},{"x":1966,"y":92,"s":3.4},{"x":1967,"y":92,"s":3.4},{"x":1968,"y":92,"s":3.1},{"x":1969,"y":92,"s":3.1},{"x":1970,"y":92,"s":3.1},{"x":1971,"y":92,"s":2.6},{"x":1972,"y":92,"s":2.2},{"x":1973,"y":92,"s":2.2},{"x":1974,"y":92,"s":1.7},{"x":1975,"y":92,"s":1.7},{"x":1976,"y":92,"s":1.7},{"x":1977,"y":92,"s":1.35},{"x":1978,"y":92,"s":0.5},{"x":1981,"y":92,"s":1},{"x":1982,"y":92,"s":3.7},{"x":1983,"y":92,"s":7},{"x":1984,"y":92,"s":7.8},{"x":1985,"y":92,"s":11.6},{"x":1986,"y":92,"s":7},{"x":1987,"y":92,"s":5.4},{"x":1988,"y":92,"s":3.7},{"x":1989,"y":92,"s":3.7},{"x":1990,"y":92,"s":3.4},{"x":1991,"y":92,"s":3.4},{"x":1992,"y":92,"s":3.4},{"x":1993,"y":92,"s":3.4},{"x":1994,"y":92,"s":3.4},{"x":1995,"y":92,"s":3.4},{"x":1996,"y":92,"s":3.4},{"x":1997,"y":92,"s":3.4},{"x":1998,"y":92,"s":3.4},{"x":1999,"y":92,"s":3.4},{"x":2000,"y":92,"s":3.4},{"x":2001,"y":92,"s":3.4},{"x":2002,"y":92,"s":3.4},{"x":2003,"y":92,"s":3.4},{"x":2004,"y":92,"s":3.4},{"x":2005,"y":92,"s":3.4},{"x":2006,"y":92,"s":3.4},{"x":2007,"y":92,"s":3.4},{"x":2008,"y":92,"s":3.4},{"x":2009,"y":92,"s":3.4},{"x":2010,"y":92,"s":3.4},{"x":2011,"y":92,"s":3.4},{"x":2012,"y":92,"s":3.4},{"x":2013,"y":92,"s":3.4},{"x":2014,"y":92,"s":3.4},{"x":2015,"y":92,"s":3.4},{"x":2016,"y":92,"s":4.7},
{"x":1951,"y":87,"s":5.2},{"x":1952,"y":87,"s":3.9},{"x":1953,"y":87,"s":3.9},{"x":1954,"y":87,"s":3.9},{"x":1955,"y":87,"s":3.9},{"x":1956,"y":87,"s":3.9},{"x":1957,"y":87,"s":3.9},{"x":1958,"y":87,"s":3.9},{"x":1959,"y":87,"s":3.9},{"x":1960,"y":87,"s":3.9},{"x":1961,"y":87,"s":3.9},{"x":1962,"y":87,"s":3.9},{"x":1963,"y":87,"s":3.9},{"x":1964,"y":87,"s":3.9},{"x":1965,"y":87,"s":3.9},{"x":1966,"y":87,"s":3.4},{"x":1967,"y":87,"s":3.4},{"x":1968,"y":87,"s":3.1},{"x":1969,"y":87,"s":3.1},{"x":1970,"y":87,"s":3.1},{"x":1971,"y":87,"s":2.6},{"x":1972,"y":87,"s":2.2},{"x":1973,"y":87,"s":2.2},{"x":1974,"y":87,"s":1.7},{"x":1975,"y":87,"s":1.7},{"x":1976,"y":87,"s":1.7},{"x":1977,"y":87,"s":1.35},{"x":1978,"y":87,"s":0.5},{"x":1981,"y":87,"s":1},{"x":1982,"y":87,"s":3.7},{"x":1983,"y":87,"s":7},{"x":1984,"y":87,"s":7.8},{"x":1985,"y":87,"s":11.6},{"x":1986,"y":87,"s":7},{"x":1987,"y":87,"s":4.7},{"x":1988,"y":87,"s":3.7},{"x":1989,"y":87,"s":3.7},{"x":1990,"y":87,"s":3.4},{"x":1991,"y":87,"s":3.4},{"x":1992,"y":87,"s":3.4},{"x":1993,"y":87,"s":3.4},{"x":1994,"y":87,"s":3.4},{"x":1995,"y":87,"s":3.4},{"x":1996,"y":87,"s":3.4},{"x":1997,"y":87,"s":3.4},{"x":1998,"y":87,"s":3.4},{"x":1999,"y":87,"s":3.4},{"x":2000,"y":87,"s":3.4},{"x":2001,"y":87,"s":3.4},{"x":2002,"y":87,"s":3.4},{"x":2003,"y":87,"s":3.4},{"x":2004,"y":87,"s":3.4},{"x":2005,"y":87,"s":3.4},{"x":2006,"y":87,"s":3.4},{"x":2007,"y":87,"s":3.4},{"x":2008,"y":87,"s":3.4},{"x":2009,"y":87,"s":3.4},{"x":2010,"y":87,"s":3.4},{"x":2011,"y":87,"s":3.4},{"x":2012,"y":87,"s":3.4},{"x":2013,"y":87,"s":3.4},{"x":2014,"y":87,"s":3.4},{"x":2015,"y":87,"s":3.4},{"x":2016,"y":87,"s":4.7},
{"x":1951,"y":82,"s":5.2},{"x":1952,"y":82,"s":3.9},{"x":1953,"y":82,"s":3.9},{"x":1954,"y":82,"s":3.9},{"x":1955,"y":82,"s":3.9},{"x":1956,"y":82,"s":3.9},{"x":1957,"y":82,"s":3.9},{"x":1958,"y":82,"s":3.9},{"x":1959,"y":82,"s":3.9},{"x":1960,"y":82,"s":3.9},{"x":1961,"y":82,"s":3.9},{"x":1962,"y":82,"s":3.9},{"x":1963,"y":82,"s":3.9},{"x":1964,"y":82,"s":3.9},{"x":1965,"y":82,"s":3.9},{"x":1966,"y":82,"s":3.4},{"x":1967,"y":82,"s":3.4},{"x":1968,"y":82,"s":3.1},{"x":1969,"y":82,"s":3.1},{"x":1970,"y":82,"s":3.1},{"x":1971,"y":82,"s":2.6},{"x":1972,"y":82,"s":2.2},{"x":1973,"y":82,"s":2.2},{"x":1974,"y":82,"s":1.7},{"x":1975,"y":82,"s":1.7},{"x":1976,"y":82,"s":1.35},{"x":1977,"y":82,"s":1},{"x":1978,"y":82,"s":0.5},{"x":1981,"y":82,"s":1},{"x":1982,"y":82,"s":3.7},{"x":1983,"y":82,"s":7},{"x":1984,"y":82,"s":8.7},{"x":1985,"y":82,"s":11.6},{"x":1986,"y":82,"s":7.8},{"x":1987,"y":82,"s":5.4},{"x":1988,"y":82,"s":3.7},{"x":1989,"y":82,"s":3.7},{"x":1990,"y":82,"s":3.4},{"x":1991,"y":82,"s":3.4},{"x":1992,"y":82,"s":3.4},{"x":1993,"y":82,"s":3.4},{"x":1994,"y":82,"s":3.4},{"x":1995,"y":82,"s":3.4},{"x":1996,"y":82,"s":3.4},{"x":1997,"y":82,"s":3.4},{"x":1998,"y":82,"s":3.4},{"x":1999,"y":82,"s":3.4},{"x":2000,"y":82,"s":3.4},{"x":2001,"y":82,"s":3.4},{"x":2002,"y":82,"s":3.4},{"x":2003,"y":82,"s":3.4},{"x":2004,"y":82,"s":3.4},{"x":2005,"y":82,"s":3.4},{"x":2006,"y":82,"s":3.4},{"x":2007,"y":82,"s":3.4},{"x":2008,"y":82,"s":3.4},{"x":2009,"y":82,"s":3.4},{"x":2010,"y":82,"s":3.4},{"x":2011,"y":82,"s":3.4},{"x":2012,"y":82,"s":3.4},{"x":2013,"y":82,"s":3.4},{"x":2014,"y":82,"s":3.4},{"x":2015,"y":82,"s":3.4},{"x":2016,"y":82,"s":4.7},
{"x":1951,"y":77,"s":5.2},{"x":1952,"y":77,"s":3.9},{"x":1953,"y":77,"s":3.9},{"x":1954,"y":77,"s":3.9},{"x":1955,"y":77,"s":3.9},{"x":1956,"y":77,"s":3.9},{"x":1957,"y":77,"s":3.9},{"x":1958,"y":77,"s":3.9},{"x":1959,"y":77,"s":3.9},{"x":1960,"y":77,"s":3.9},{"x":1961,"y":77,"s":3.9},{"x":1962,"y":77,"s":3.9},{"x":1963,"y":77,"s":3.9},{"x":1964,"y":77,"s":3.9},{"x":1965,"y":77,"s":3.9},{"x":1966,"y":77,"s":3.4},{"x":1967,"y":77,"s":3.4},{"x":1968,"y":77,"s":3.1},{"x":1969,"y":77,"s":3.1},{"x":1970,"y":77,"s":3.1},{"x":1971,"y":77,"s":2.6},{"x":1972,"y":77,"s":2.2},{"x":1973,"y":77,"s":2.2},{"x":1974,"y":77,"s":1.7},{"x":1975,"y":77,"s":1.7},{"x":1976,"y":77,"s":1.5},{"x":1977,"y":77,"s":1.35},{"x":1978,"y":77,"s":1},{"x":1979,"y":77,"s":0.75},{"x":1980,"y":77,"s":0.08},{"x":1981,"y":77,"s":3.1},{"x":1982,"y":77,"s":5.4},{"x":1983,"y":77,"s":7.8},{"x":1984,"y":77,"s":10.5},{"x":1985,"y":77,"s":11.6},{"x":1986,"y":77,"s":7.8},{"x":1987,"y":77,"s":5.4},{"x":1988,"y":77,"s":3.7},{"x":1989,"y":77,"s":3.7},{"x":1990,"y":77,"s":3.4},{"x":1991,"y":77,"s":3.4},{"x":1992,"y":77,"s":3.4},{"x":1993,"y":77,"s":3.4},{"x":1994,"y":77,"s":3.4},{"x":1995,"y":77,"s":3.4},{"x":1996,"y":77,"s":3.4},{"x":1997,"y":77,"s":3.4},{"x":1998,"y":77,"s":3.4},{"x":1999,"y":77,"s":3.4},{"x":2000,"y":77,"s":3.4},{"x":2001,"y":77,"s":3.4},{"x":2002,"y":77,"s":3.4},{"x":2003,"y":77,"s":3.4},{"x":2004,"y":77,"s":3.4},{"x":2005,"y":77,"s":3.4},{"x":2006,"y":77,"s":3.4},{"x":2007,"y":77,"s":3.4},{"x":2008,"y":77,"s":3.4},{"x":2009,"y":77,"s":3.4},{"x":2010,"y":77,"s":3.4},{"x":2011,"y":77,"s":3.4},{"x":2012,"y":77,"s":3.4},{"x":2013,"y":77,"s":3.4},{"x":2014,"y":77,"s":3.4},{"x":2015,"y":77,"s":3.4},{"x":2016,"y":77,"s":4},
{"x":1951,"y":72,"s":5.2},{"x":1952,"y":72,"s":3.9},{"x":1953,"y":72,"s":3.9},{"x":1954,"y":72,"s":3.9},{"x":1955,"y":72,"s":3.9},{"x":1956,"y":72,"s":3.9},{"x":1957,"y":72,"s":3.9},{"x":1958,"y":72,"s":3.9},{"x":1959,"y":72,"s":3.9},{"x":1960,"y":72,"s":3.9},{"x":1961,"y":72,"s":3.9},{"x":1962,"y":72,"s":3.9},{"x":1963,"y":72,"s":3.9},{"x":1964,"y":72,"s":3.9},{"x":1965,"y":72,"s":3.9},{"x":1966,"y":72,"s":3.4},{"x":1967,"y":72,"s":3.4},{"x":1968,"y":72,"s":3.1},{"x":1969,"y":72,"s":3.1},{"x":1970,"y":72,"s":3.1},{"x":1971,"y":72,"s":2.6},{"x":1972,"y":72,"s":2.2},{"x":1973,"y":72,"s":2.2},{"x":1974,"y":72,"s":2.2},{"x":1975,"y":72,"s":2.2},{"x":1976,"y":72,"s":2.2},{"x":1977,"y":72,"s":2.2},{"x":1978,"y":72,"s":2.2},{"x":1979,"y":72,"s":2.2},{"x":1980,"y":72,"s":1},{"x":1981,"y":72,"s":3.7},{"x":1982,"y":72,"s":5.4},{"x":1983,"y":72,"s":7.8},{"x":1984,"y":72,"s":10.5},{"x":1985,"y":72,"s":10.5},{"x":1986,"y":72,"s":7.8},{"x":1987,"y":72,"s":5.4},{"x":1988,"y":72,"s":3.7},{"x":1989,"y":72,"s":3.7},{"x":1990,"y":72,"s":3.4},{"x":1991,"y":72,"s":3.4},{"x":1992,"y":72,"s":3.4},{"x":1993,"y":72,"s":3.4},{"x":1994,"y":72,"s":3.4},{"x":1995,"y":72,"s":3.4},{"x":1996,"y":72,"s":3.4},{"x":1997,"y":72,"s":3.4},{"x":1998,"y":72,"s":3.4},{"x":1999,"y":72,"s":3.4},{"x":2000,"y":72,"s":3.4},{"x":2001,"y":72,"s":3.4},{"x":2002,"y":72,"s":3.4},{"x":2003,"y":72,"s":3.4},{"x":2004,"y":72,"s":3.4},{"x":2005,"y":72,"s":3.4},{"x":2006,"y":72,"s":3.4},{"x":2007,"y":72,"s":3.4},{"x":2008,"y":72,"s":3.4},{"x":2009,"y":72,"s":3.4},{"x":2010,"y":72,"s":3.4},{"x":2011,"y":72,"s":3.4},{"x":2012,"y":72,"s":3.4},{"x":2013,"y":72,"s":3.4},{"x":2014,"y":72,"s":3.4},{"x":2015,"y":72,"s":3.4},{"x":2016,"y":72,"s":4},
{"x":1951,"y":67,"s":5.2},{"x":1952,"y":67,"s":3.9},{"x":1953,"y":67,"s":3.9},{"x":1954,"y":67,"s":3.9},{"x":1955,"y":67,"s":3.9},{"x":1956,"y":67,"s":3.9},{"x":1957,"y":67,"s":3.9},{"x":1958,"y":67,"s":3.9},{"x":1959,"y":67,"s":3.9},{"x":1960,"y":67,"s":3.9},{"x":1961,"y":67,"s":3.9},{"x":1962,"y":67,"s":3.9},{"x":1963,"y":67,"s":3.9},{"x":1964,"y":67,"s":3.9},{"x":1965,"y":67,"s":3.9},{"x":1966,"y":67,"s":3.4},{"x":1967,"y":67,"s":3.4},{"x":1968,"y":67,"s":3.1},{"x":1969,"y":67,"s":3.1},{"x":1970,"y":67,"s":3.1},{"x":1971,"y":67,"s":2.6},{"x":1972,"y":67,"s":2.2},{"x":1973,"y":67,"s":2.2},{"x":1974,"y":67,"s":2.2},{"x":1975,"y":67,"s":2.2},{"x":1976,"y":67,"s":2.2},{"x":1977,"y":67,"s":2.2},{"x":1978,"y":67,"s":2.2},{"x":1979,"y":67,"s":2.2},{"x":1980,"y":67,"s":0.75},{"x":1981,"y":67,"s":3.1},{"x":1982,"y":67,"s":5.4},{"x":1983,"y":67,"s":7.8},{"x":1984,"y":67,"s":10.5},{"x":1985,"y":67,"s":11.6},{"x":1986,"y":67,"s":7.8},{"x":1987,"y":67,"s":5.4},{"x":1988,"y":67,"s":3.7},{"x":1989,"y":67,"s":3.7},{"x":1990,"y":67,"s":3.4},{"x":1991,"y":67,"s":3.4},{"x":1992,"y":67,"s":3.4},{"x":1993,"y":67,"s":3.4},{"x":1994,"y":67,"s":3.4},{"x":1995,"y":67,"s":3.4},{"x":1996,"y":67,"s":3.4},{"x":1997,"y":67,"s":3.4},{"x":1998,"y":67,"s":3.4},{"x":1999,"y":67,"s":3.4},{"x":2000,"y":67,"s":3.4},{"x":2001,"y":67,"s":3.4},{"x":2002,"y":67,"s":3.4},{"x":2003,"y":67,"s":3.4},{"x":2004,"y":67,"s":3.4},{"x":2005,"y":67,"s":3.4},{"x":2006,"y":67,"s":3.4},{"x":2007,"y":67,"s":3.4},{"x":2008,"y":67,"s":3.4},{"x":2009,"y":67,"s":3.4},{"x":2010,"y":67,"s":3.4},{"x":2011,"y":67,"s":3.4},{"x":2012,"y":67,"s":3.4},{"x":2013,"y":67,"s":3.4},{"x":2014,"y":67,"s":3.4},{"x":2015,"y":67,"s":3.4},{"x":2016,"y":67,"s":4},
{"x":1951,"y":62,"s":5.2},{"x":1952,"y":62,"s":3.9},{"x":1953,"y":62,"s":3.9},{"x":1954,"y":62,"s":3.9},{"x":1955,"y":62,"s":3.9},{"x":1956,"y":62,"s":3.9},{"x":1957,"y":62,"s":3.9},{"x":1958,"y":62,"s":3.9},{"x":1959,"y":62,"s":3.9},{"x":1960,"y":62,"s":3.9},{"x":1961,"y":62,"s":3.9},{"x":1962,"y":62,"s":3.9},{"x":1963,"y":62,"s":3.9},{"x":1964,"y":62,"s":3.9},{"x":1965,"y":62,"s":3.9},{"x":1966,"y":62,"s":3.4},{"x":1967,"y":62,"s":3.4},{"x":1968,"y":62,"s":3.1},{"x":1969,"y":62,"s":3.1},{"x":1970,"y":62,"s":3.1},{"x":1971,"y":62,"s":2.6},{"x":1972,"y":62,"s":2.2},{"x":1973,"y":62,"s":2.2},{"x":1974,"y":62,"s":2.2},{"x":1975,"y":62,"s":2.2},{"x":1976,"y":62,"s":2.2},{"x":1977,"y":62,"s":2.2},{"x":1978,"y":62,"s":2.2},{"x":1979,"y":62,"s":2.2},{"x":1980,"y":62,"s":0.75},{"x":1981,"y":62,"s":3.7},{"x":1982,"y":62,"s":6.2},{"x":1983,"y":62,"s":7.8},{"x":1984,"y":62,"s":11.6},{"x":1985,"y":62,"s":11.6},{"x":1986,"y":62,"s":7.8},{"x":1987,"y":62,"s":5.4},{"x":1988,"y":62,"s":3.7},{"x":1989,"y":62,"s":3.7},{"x":1990,"y":62,"s":3.4},{"x":1991,"y":62,"s":3.4},{"x":1992,"y":62,"s":3.4},{"x":1993,"y":62,"s":3.4},{"x":1994,"y":62,"s":3.4},{"x":1995,"y":62,"s":3.4},{"x":1996,"y":62,"s":3.4},{"x":1997,"y":62,"s":3.4},{"x":1998,"y":62,"s":3.4},{"x":1999,"y":62,"s":3.4},{"x":2000,"y":62,"s":3.4},{"x":2001,"y":62,"s":3.4},{"x":2002,"y":62,"s":3.4},{"x":2003,"y":62,"s":3.4},{"x":2004,"y":62,"s":3.4},{"x":2005,"y":62,"s":3.4},{"x":2006,"y":62,"s":3.4},{"x":2007,"y":62,"s":3.4},{"x":2008,"y":62,"s":3.4},{"x":2009,"y":62,"s":3.4},{"x":2010,"y":62,"s":3.4},{"x":2011,"y":62,"s":3.4},{"x":2012,"y":62,"s":3.4},{"x":2013,"y":62,"s":3.4},{"x":2014,"y":62,"s":3.4},{"x":2015,"y":62,"s":3.4},{"x":2016,"y":62,"s":4},
{"x":1951,"y":57,"s":5.2},{"x":1952,"y":57,"s":3.9},{"x":1953,"y":57,"s":3.9},{"x":1954,"y":57,"s":3.9},{"x":1955,"y":57,"s":3.9},{"x":1956,"y":57,"s":3.9},{"x":1957,"y":57,"s":3.9},{"x":1958,"y":57,"s":3.9},{"x":1959,"y":57,"s":3.9},{"x":1960,"y":57,"s":3.9},{"x":1961,"y":57,"s":3.9},{"x":1962,"y":57,"s":3.9},{"x":1963,"y":57,"s":3.9},{"x":1964,"y":57,"s":3.9},{"x":1965,"y":57,"s":3.9},{"x":1966,"y":57,"s":3.4},{"x":1967,"y":57,"s":3.4},{"x":1968,"y":57,"s":3.1},{"x":1969,"y":57,"s":3.1},{"x":1970,"y":57,"s":3.1},{"x":1971,"y":57,"s":2.6},{"x":1972,"y":57,"s":2.2},{"x":1973,"y":57,"s":2.2},{"x":1974,"y":57,"s":2.2},{"x":1975,"y":57,"s":2.2},{"x":1976,"y":57,"s":2.2},{"x":1977,"y":57,"s":2.2},{"x":1978,"y":57,"s":2.2},{"x":1979,"y":57,"s":2.2},{"x":1980,"y":57,"s":1.35},{"x":1981,"y":57,"s":3.7},{"x":1982,"y":57,"s":7},{"x":1983,"y":57,"s":10.5},{"x":1984,"y":57,"s":12.8},{"x":1985,"y":57,"s":10.5},{"x":1986,"y":57,"s":7.8},{"x":1987,"y":57,"s":5.4},{"x":1988,"y":57,"s":3.7},{"x":1989,"y":57,"s":3.7},{"x":1990,"y":57,"s":3.4},{"x":1991,"y":57,"s":3.4},{"x":1992,"y":57,"s":3.4},{"x":1993,"y":57,"s":3.4},{"x":1994,"y":57,"s":3.4},{"x":1995,"y":57,"s":3.4},{"x":1996,"y":57,"s":3.4},{"x":1997,"y":57,"s":3.4},{"x":1998,"y":57,"s":3.4},{"x":1999,"y":57,"s":3.4},{"x":2000,"y":57,"s":3.4},{"x":2001,"y":57,"s":3.4},{"x":2002,"y":57,"s":3.4},{"x":2003,"y":57,"s":3.4},{"x":2004,"y":57,"s":3.4},{"x":2005,"y":57,"s":3.4},{"x":2006,"y":57,"s":3.4},{"x":2007,"y":57,"s":3.4},{"x":2008,"y":57,"s":3.4},{"x":2009,"y":57,"s":3.4},{"x":2010,"y":57,"s":3.4},{"x":2011,"y":57,"s":3.4},{"x":2012,"y":57,"s":3.4},{"x":2013,"y":57,"s":3.4},{"x":2014,"y":57,"s":3.4},{"x":2015,"y":57,"s":3.4},{"x":2016,"y":57,"s":4},
{"x":1951,"y":52,"s":5.2},{"x":1952,"y":52,"s":3.9},{"x":1953,"y":52,"s":3.9},{"x":1954,"y":52,"s":3.9},{"x":1955,"y":52,"s":3.9},{"x":1956,"y":52,"s":3.9},{"x":1957,"y":52,"s":3.9},{"x":1958,"y":52,"s":3.9},{"x":1959,"y":52,"s":3.9},{"x":1960,"y":52,"s":3.9},{"x":1961,"y":52,"s":3.9},{"x":1962,"y":52,"s":3.9},{"x":1963,"y":52,"s":3.9},{"x":1964,"y":52,"s":3.9},{"x":1965,"y":52,"s":3.9},{"x":1966,"y":52,"s":3.4},{"x":1967,"y":52,"s":3.4},{"x":1968,"y":52,"s":3.1},{"x":1969,"y":52,"s":3.1},{"x":1970,"y":52,"s":3.1},{"x":1971,"y":52,"s":2.6},{"x":1972,"y":52,"s":2.2},{"x":1973,"y":52,"s":2.2},{"x":1974,"y":52,"s":2.2},{"x":1975,"y":52,"s":2.2},{"x":1976,"y":52,"s":2.2},{"x":1977,"y":52,"s":2.2},{"x":1978,"y":52,"s":2.2},{"x":1979,"y":52,"s":2.2},{"x":1980,"y":52,"s":1.35},{"x":1981,"y":52,"s":3.7},{"x":1982,"y":52,"s":7},{"x":1983,"y":52,"s":10.5},{"x":1984,"y":52,"s":12.8},{"x":1985,"y":52,"s":10.5},{"x":1986,"y":52,"s":7.8},{"x":1987,"y":52,"s":5.4},{"x":1988,"y":52,"s":3.7},{"x":1989,"y":52,"s":3.7},{"x":1990,"y":52,"s":3.4},{"x":1991,"y":52,"s":3.4},{"x":1992,"y":52,"s":3.4},{"x":1993,"y":52,"s":3.4},{"x":1994,"y":52,"s":3.4},{"x":1995,"y":52,"s":3.4},{"x":1996,"y":52,"s":3.4},{"x":1997,"y":52,"s":3.4},{"x":1998,"y":52,"s":3.4},{"x":1999,"y":52,"s":3.4},{"x":2000,"y":52,"s":3.4},{"x":2001,"y":52,"s":3.4},{"x":2002,"y":52,"s":3.4},{"x":2003,"y":52,"s":3.4},{"x":2004,"y":52,"s":3.4},{"x":2005,"y":52,"s":3.4},{"x":2006,"y":52,"s":3.4},{"x":2007,"y":52,"s":3.4},{"x":2008,"y":52,"s":3.4},{"x":2009,"y":52,"s":3.4},{"x":2010,"y":52,"s":3.4},{"x":2011,"y":52,"s":3.4},{"x":2012,"y":52,"s":3.4},{"x":2013,"y":52,"s":3.4},{"x":2014,"y":52,"s":3.4},{"x":2015,"y":52,"s":3.4},{"x":2016,"y":52,"s":4},
{"x":1951,"y":47,"s":5.2},{"x":1952,"y":47,"s":3.9},{"x":1953,"y":47,"s":3.9},{"x":1954,"y":47,"s":3.9},{"x":1955,"y":47,"s":3.9},{"x":1956,"y":47,"s":3.9},{"x":1957,"y":47,"s":3.9},{"x":1958,"y":47,"s":3.9},{"x":1959,"y":47,"s":3.9},{"x":1960,"y":47,"s":3.9},{"x":1961,"y":47,"s":3.9},{"x":1962,"y":47,"s":3.9},{"x":1963,"y":47,"s":3.9},{"x":1964,"y":47,"s":3.9},{"x":1965,"y":47,"s":3.9},{"x":1966,"y":47,"s":3.4},{"x":1967,"y":47,"s":3.4},{"x":1968,"y":47,"s":3.1},{"x":1969,"y":47,"s":3.1},{"x":1970,"y":47,"s":3.1},{"x":1971,"y":47,"s":2.6},{"x":1972,"y":47,"s":2.2},{"x":1973,"y":47,"s":2.2},{"x":1974,"y":47,"s":2.2},{"x":1975,"y":47,"s":2.2},{"x":1976,"y":47,"s":2.2},{"x":1977,"y":47,"s":2.2},{"x":1978,"y":47,"s":2.2},{"x":1979,"y":47,"s":2.2},{"x":1980,"y":47,"s":1.35},{"x":1981,"y":47,"s":3.7},{"x":1982,"y":47,"s":7},{"x":1983,"y":47,"s":10.5},{"x":1984,"y":47,"s":12.8},{"x":1985,"y":47,"s":10.5},{"x":1986,"y":47,"s":7.8},{"x":1987,"y":47,"s":5.4},{"x":1988,"y":47,"s":3.7},{"x":1989,"y":47,"s":3.7},{"x":1990,"y":47,"s":3.4},{"x":1991,"y":47,"s":3.4},{"x":1992,"y":47,"s":3.4},{"x":1993,"y":47,"s":3.4},{"x":1994,"y":47,"s":3.4},{"x":1995,"y":47,"s":3.4},{"x":1996,"y":47,"s":3.4},{"x":1997,"y":47,"s":3.4},{"x":1998,"y":47,"s":3.4},{"x":1999,"y":47,"s":3.4},{"x":2000,"y":47,"s":3.4},{"x":2001,"y":47,"s":3.4},{"x":2002,"y":47,"s":3.4},{"x":2003,"y":47,"s":3.4},{"x":2004,"y":47,"s":3.4},{"x":2005,"y":47,"s":3.4},{"x":2006,"y":47,"s":3.4},{"x":2007,"y":47,"s":3.4},{"x":2008,"y":47,"s":3.4},{"x":2009,"y":47,"s":3.4},{"x":2010,"y":47,"s":3.4},{"x":2011,"y":47,"s":3.4},{"x":2012,"y":47,"s":3.4},{"x":2013,"y":47,"s":3.4},{"x":2014,"y":47,"s":3.4},{"x":2015,"y":47,"s":3.4},{"x":2016,"y":47,"s":4},
{"x":1951,"y":42,"s":5.2},{"x":1952,"y":42,"s":3.9},{"x":1953,"y":42,"s":3.9},{"x":1954,"y":42,"s":3.9},{"x":1955,"y":42,"s":3.9},{"x":1956,"y":42,"s":3.9},{"x":1957,"y":42,"s":3.9},{"x":1958,"y":42,"s":3.9},{"x":1959,"y":42,"s":3.9},{"x":1960,"y":42,"s":3.9},{"x":1961,"y":42,"s":3.9},{"x":1962,"y":42,"s":3.9},{"x":1963,"y":42,"s":3.9},{"x":1964,"y":42,"s":3.9},{"x":1965,"y":42,"s":3.9},{"x":1966,"y":42,"s":3.4},{"x":1967,"y":42,"s":3.4},{"x":1968,"y":42,"s":3.1},{"x":1969,"y":42,"s":3.1},{"x":1970,"y":42,"s":3.1},{"x":1971,"y":42,"s":2.6},{"x":1972,"y":42,"s":2.2},{"x":1973,"y":42,"s":2.2},{"x":1974,"y":42,"s":2.2},{"x":1975,"y":42,"s":2.2},{"x":1976,"y":42,"s":2.2},{"x":1977,"y":42,"s":2.2},{"x":1978,"y":42,"s":2.2},{"x":1979,"y":42,"s":2.2},{"x":1980,"y":42,"s":1.35},{"x":1981,"y":42,"s":3.7},{"x":1982,"y":42,"s":7},{"x":1983,"y":42,"s":10.5},{"x":1984,"y":42,"s":12.8},{"x":1985,"y":42,"s":10.5},{"x":1986,"y":42,"s":7.8},{"x":1987,"y":42,"s":5.4},{"x":1988,"y":42,"s":3.7},{"x":1989,"y":42,"s":3.7},{"x":1990,"y":42,"s":3.4},{"x":1991,"y":42,"s":3.4},{"x":1992,"y":42,"s":3.4},{"x":1993,"y":42,"s":3.4},{"x":1994,"y":42,"s":3.4},{"x":1995,"y":42,"s":3.4},{"x":1996,"y":42,"s":3.4},{"x":1997,"y":42,"s":3.4},{"x":1998,"y":42,"s":3.4},{"x":1999,"y":42,"s":3.4},{"x":2000,"y":42,"s":3.4},{"x":2001,"y":42,"s":3.4},{"x":2002,"y":42,"s":3.4},{"x":2003,"y":42,"s":3.4},{"x":2004,"y":42,"s":3.4},{"x":2005,"y":42,"s":3.4},{"x":2006,"y":42,"s":3.4},{"x":2007,"y":42,"s":3.4},{"x":2008,"y":42,"s":3.4},{"x":2009,"y":42,"s":3.4},{"x":2010,"y":42,"s":3.4},{"x":2011,"y":42,"s":3.4},{"x":2012,"y":42,"s":3.4},{"x":2013,"y":42,"s":3.4},{"x":2014,"y":42,"s":3.4},{"x":2015,"y":42,"s":3.4},{"x":2016,"y":42,"s":4},
{"x":1951,"y":37,"s":5.2},{"x":1952,"y":37,"s":3.9},{"x":1953,"y":37,"s":3.9},{"x":1954,"y":37,"s":3.9},{"x":1955,"y":37,"s":3.9},{"x":1956,"y":37,"s":3.9},{"x":1957,"y":37,"s":3.9},{"x":1958,"y":37,"s":3.9},{"x":1959,"y":37,"s":3.9},{"x":1960,"y":37,"s":3.9},{"x":1961,"y":37,"s":3.9},{"x":1962,"y":37,"s":3.9},{"x":1963,"y":37,"s":3.9},{"x":1964,"y":37,"s":3.9},{"x":1965,"y":37,"s":3.9},{"x":1966,"y":37,"s":3.4},{"x":1967,"y":37,"s":3.4},{"x":1968,"y":37,"s":3.1},{"x":1969,"y":37,"s":3.1},{"x":1970,"y":37,"s":3.1},{"x":1971,"y":37,"s":2.6},{"x":1972,"y":37,"s":2.2},{"x":1973,"y":37,"s":2.2},{"x":1974,"y":37,"s":2.2},{"x":1975,"y":37,"s":2.2},{"x":1976,"y":37,"s":2.2},{"x":1977,"y":37,"s":2.2},{"x":1978,"y":37,"s":2.2},{"x":1979,"y":37,"s":2.2},{"x":1980,"y":37,"s":1.7},{"x":1981,"y":37,"s":5.4},{"x":1982,"y":37,"s":7.8},{"x":1983,"y":37,"s":11.6},{"x":1984,"y":37,"s":13.9},{"x":1985,"y":37,"s":11.6},{"x":1986,"y":37,"s":7.8},{"x":1987,"y":37,"s":5.4},{"x":1988,"y":37,"s":3.7},{"x":1989,"y":37,"s":3.7},{"x":1990,"y":37,"s":3.4},{"x":1991,"y":37,"s":3.4},{"x":1992,"y":37,"s":3.4},{"x":1993,"y":37,"s":3.4},{"x":1994,"y":37,"s":3.4},{"x":1995,"y":37,"s":3.4},{"x":1996,"y":37,"s":3.4},{"x":1997,"y":37,"s":3.4},{"x":1998,"y":37,"s":3.4},{"x":1999,"y":37,"s":3.4},{"x":2000,"y":37,"s":3.4},{"x":2001,"y":37,"s":3.4},{"x":2002,"y":37,"s":3.4},{"x":2003,"y":37,"s":3.4},{"x":2004,"y":37,"s":3.4},{"x":2005,"y":37,"s":3.4},{"x":2006,"y":37,"s":3.4},{"x":2007,"y":37,"s":3.4},{"x":2008,"y":37,"s":3.4},{"x":2009,"y":37,"s":3.4},{"x":2010,"y":37,"s":3.4},{"x":2011,"y":37,"s":3.4},{"x":2012,"y":37,"s":3.4},{"x":2013,"y":37,"s":3.4},{"x":2014,"y":37,"s":3.4},{"x":2015,"y":37,"s":3.4},{"x":2016,"y":37,"s":4},
{"x":1951,"y":32,"s":5.2},{"x":1952,"y":32,"s":3.9},{"x":1953,"y":32,"s":3.9},{"x":1954,"y":32,"s":3.9},{"x":1955,"y":32,"s":3.9},{"x":1956,"y":32,"s":3.9},{"x":1957,"y":32,"s":3.9},{"x":1958,"y":32,"s":3.9},{"x":1959,"y":32,"s":3.9},{"x":1960,"y":32,"s":3.9},{"x":1961,"y":32,"s":3.9},{"x":1962,"y":32,"s":3.9},{"x":1963,"y":32,"s":3.9},{"x":1964,"y":32,"s":3.9},{"x":1965,"y":32,"s":3.9},{"x":1966,"y":32,"s":3.4},{"x":1967,"y":32,"s":3.4},{"x":1968,"y":32,"s":3.1},{"x":1969,"y":32,"s":3.1},{"x":1970,"y":32,"s":3.1},{"x":1971,"y":32,"s":2.6},{"x":1972,"y":32,"s":2.2},{"x":1973,"y":32,"s":2.2},{"x":1974,"y":32,"s":2.2},{"x":1975,"y":32,"s":2.2},{"x":1976,"y":32,"s":2.2},{"x":1977,"y":32,"s":2.2},{"x":1978,"y":32,"s":2.2},{"x":1979,"y":32,"s":2.2},{"x":1980,"y":32,"s":1.7},{"x":1981,"y":32,"s":5.4},{"x":1982,"y":32,"s":7.8},{"x":1983,"y":32,"s":11.6},{"x":1984,"y":32,"s":13.9},{"x":1985,"y":32,"s":11.6},{"x":1986,"y":32,"s":7.8},{"x":1987,"y":32,"s":5.4},{"x":1988,"y":32,"s":3.7},{"x":1989,"y":32,"s":3.7},{"x":1990,"y":32,"s":3.4},{"x":1991,"y":32,"s":3.4},{"x":1992,"y":32,"s":3.4},{"x":1993,"y":32,"s":3.4},{"x":1994,"y":32,"s":3.4},{"x":1995,"y":32,"s":3.4},{"x":1996,"y":32,"s":3.4},{"x":1997,"y":32,"s":3.4},{"x":1998,"y":32,"s":3.4},{"x":1999,"y":32,"s":3.4},{"x":2000,"y":32,"s":3.4},{"x":2001,"y":32,"s":3.4},{"x":2002,"y":32,"s":3.4},{"x":2003,"y":32,"s":3.4},{"x":2004,"y":32,"s":3.4},{"x":2005,"y":32,"s":3.4},{"x":2006,"y":32,"s":3.4},{"x":2007,"y":32,"s":3.4},{"x":2008,"y":32,"s":3.4},{"x":2009,"y":32,"s":3.4},{"x":2010,"y":32,"s":3.4},{"x":2011,"y":32,"s":3.4},{"x":2012,"y":32,"s":3.4},{"x":2013,"y":32,"s":3.4},{"x":2014,"y":32,"s":3.4},{"x":2015,"y":32,"s":3.4},{"x":2016,"y":32,"s":4},
{"x":1951,"y":27,"s":5.2},{"x":1952,"y":27,"s":3.9},{"x":1953,"y":27,"s":3.9},{"x":1954,"y":27,"s":3.9},{"x":1955,"y":27,"s":3.9},{"x":1956,"y":27,"s":3.9},{"x":1957,"y":27,"s":3.9},{"x":1958,"y":27,"s":3.9},{"x":1959,"y":27,"s":3.9},{"x":1960,"y":27,"s":3.9},{"x":1961,"y":27,"s":3.9},{"x":1962,"y":27,"s":3.9},{"x":1963,"y":27,"s":3.9},{"x":1964,"y":27,"s":3.9},{"x":1965,"y":27,"s":3.9},{"x":1966,"y":27,"s":3.4},{"x":1967,"y":27,"s":3.4},{"x":1968,"y":27,"s":3.1},{"x":1969,"y":27,"s":3.1},{"x":1970,"y":27,"s":3.1},{"x":1971,"y":27,"s":2.6},{"x":1972,"y":27,"s":2.2},{"x":1973,"y":27,"s":2.2},{"x":1974,"y":27,"s":2.2},{"x":1975,"y":27,"s":2.2},{"x":1976,"y":27,"s":2.2},{"x":1977,"y":27,"s":2.2},{"x":1978,"y":27,"s":2.2},{"x":1979,"y":27,"s":2.2},{"x":1980,"y":27,"s":1.7},{"x":1981,"y":27,"s":5.4},{"x":1982,"y":27,"s":7.8},{"x":1983,"y":27,"s":11.6},{"x":1984,"y":27,"s":13.9},{"x":1985,"y":27,"s":11.6},{"x":1986,"y":27,"s":7.8},{"x":1987,"y":27,"s":5.4},{"x":1988,"y":27,"s":3.7},{"x":1989,"y":27,"s":3.7},{"x":1990,"y":27,"s":3.4},{"x":1991,"y":27,"s":3.4},{"x":1992,"y":27,"s":3.4},{"x":1993,"y":27,"s":3.4},{"x":1994,"y":27,"s":3.4},{"x":1995,"y":27,"s":3.4},{"x":1996,"y":27,"s":3.4},{"x":1997,"y":27,"s":3.4},{"x":1998,"y":27,"s":3.4},{"x":1999,"y":27,"s":3.4},{"x":2000,"y":27,"s":3.4},{"x":2001,"y":27,"s":3.4},{"x":2002,"y":27,"s":3.4},{"x":2003,"y":27,"s":3.4},{"x":2004,"y":27,"s":3.4},{"x":2005,"y":27,"s":3.4},{"x":2006,"y":27,"s":3.4},{"x":2007,"y":27,"s":3.4},{"x":2008,"y":27,"s":3.4},{"x":2009,"y":27,"s":3.4},{"x":2010,"y":27,"s":3.4},{"x":2011,"y":27,"s":3.4},{"x":2012,"y":27,"s":3.4},{"x":2013,"y":27,"s":3.4},{"x":2014,"y":27,"s":3.4},{"x":2015,"y":27,"s":3.4},{"x":2016,"y":27,"s":4}
],
"pos": [
{"x":1972,"y":182,"s":0.5},{"x":1973,"y":182,"s":1},{"x":1974,"y":182,"s":2.6},{"x":1975,"y":182,"s":3.1},{"x":1976,"y":182,"s":4.7},{"x":1977,"y":182,"s":7},{"x":1978,"y":182,"s":11.6},{"x":1979,"y":182,"s":17.8},{"x":1980,"y":182,"s":25.3},{"x":1981,"y":182,"s":32},{"x":1982,"y":182,"s":17.8},{"x":1983,"y":182,"s":4.7},{"x":1984,"y":182,"s":0.5},{"x":1987,"y":182,"s":0.5},{"x":1988,"y":182,"s":1},{"x":1989,"y":182,"s":1.35},{"x":1990,"y":182,"s":1.7},{"x":1991,"y":182,"s":2.2},
{"x":1974,"y":177,"s":1},{"x":1975,"y":177,"s":1.7},{"x":1976,"y":177,"s":3.1},{"x":1977,"y":177,"s":5.4},{"x":1978,"y":177,"s":10.5},{"x":1979,"y":177,"s":16.4},{"x":1980,"y":177,"s":22.1},{"x":1981,"y":177,"s":28.6},{"x":1982,"y":177,"s":15.1},{"x":1983,"y":177,"s":3.7},{"x":1990,"y":177,"s":0.35},
{"x":1975,"y":172,"s":0.75},{"x":1976,"y":172,"s":1.7},{"x":1977,"y":172,"s":3.1},{"x":1978,"y":172,"s":6.2},{"x":1979,"y":172,"s":10.5},{"x":1980,"y":172,"s":16.4},{"x":1981,"y":172,"s":25.3},{"x":1982,"y":172,"s":12.8},{"x":1983,"y":172,"s":2.2},
{"x":1976,"y":167,"s":1},{"x":1977,"y":167,"s":2.6},{"x":1978,"y":167,"s":5.4},{"x":1979,"y":167,"s":7.8},{"x":1980,"y":167,"s":13.9},{"x":1981,"y":167,"s":20.6},{"x":1982,"y":167,"s":10.5},{"x":1983,"y":167,"s":0.75},
{"x":1977,"y":162,"s":1},{"x":1978,"y":162,"s":3.1},{"x":1979,"y":162,"s":5.4},{"x":1980,"y":162,"s":10.5},{"x":1981,"y":162,"s":19.1},{"x":1982,"y":162,"s":7},
{"x":1977,"y":157,"s":0.5},{"x":1978,"y":157,"s":2.2},{"x":1979,"y":157,"s":5.4},{"x":1980,"y":157,"s":10.5},{"x":1981,"y":157,"s":13.9},{"x":1982,"y":157,"s":5.4},
{"x":1978,"y":152,"s":1},{"x":1979,"y":152,"s":3.7},{"x":1980,"y":152,"s":7.8},{"x":1981,"y":152,"s":12.8},{"x":1982,"y":152,"s":3.7},
{"x":1978,"y":147,"s":1},{"x":1979,"y":147,"s":3.7},{"x":1980,"y":147,"s":10.5},{"x":1981,"y":147,"s":17.8},{"x":1982,"y":147,"s":5.4},{"x":1992,"y":147,"s":2.6},{"x":1993,"y":147,"s":1},
{"x":1978,"y":142,"s":1},{"x":1979,"y":142,"s":3.7},{"x":1980,"y":142,"s":10.5},{"x":1981,"y":142,"s":16.4},{"x":1982,"y":142,"s":5.4},{"x":1992,"y":142,"s":2.6},{"x":1993,"y":142,"s":1},
{"x":1979,"y":137,"s":0.5},{"x":1980,"y":137,"s":3.7},{"x":1981,"y":137,"s":5.4},{"x":1982,"y":137,"s":1},
{"x":1978,"y":132,"s":1},{"x":1979,"y":132,"s":2.6},{"x":1980,"y":132,"s":5.4},{"x":1981,"y":132,"s":5.4},{"x":1982,"y":132,"s":0.75},
{"x":1976,"y":127,"s":0.5},{"x":1977,"y":127,"s":1},{"x":1978,"y":127,"s":2.2},{"x":1979,"y":127,"s":3.7},{"x":1980,"y":127,"s":6.2},{"x":1981,"y":127,"s":5.4},{"x":1982,"y":127,"s":1},
{"x":1977,"y":122,"s":1},{"x":1978,"y":122,"s":2.2},{"x":1979,"y":122,"s":3.7},{"x":1980,"y":122,"s":5.4},{"x":1981,"y":122,"s":5.4},{"x":1982,"y":122,"s":1},
{"x":1977,"y":117,"s":0.35},{"x":1978,"y":117,"s":2.2},{"x":1979,"y":117,"s":3.1},{"x":1980,"y":117,"s":5.4},{"x":1981,"y":117,"s":5.4},
{"x":1978,"y":112,"s":1.35},{"x":1979,"y":112,"s":2.6},{"x":1980,"y":112,"s":3.7},{"x":1981,"y":112,"s":3.7},
{"x":1977,"y":107,"s":0.75},{"x":1978,"y":107,"s":2.2},{"x":1979,"y":107,"s":3.1},{"x":1980,"y":107,"s":4.7},{"x":1981,"y":107,"s":3.7},
{"x":1978,"y":102,"s":1.35},{"x":1979,"y":102,"s":2.6},{"x":1980,"y":102,"s":3.7},{"x":1981,"y":102,"s":2.6},
{"x":1978,"y":97,"s":0.35},{"x":1979,"y":97,"s":1.35},{"x":1980,"y":97,"s":2.6},{"x":1981,"y":97,"s":1.35},
{"x":1979,"y":92,"s":0.75},{"x":1980,"y":92,"s":2.2},
{"x":1979,"y":87,"s":0.35},{"x":1980,"y":87,"s":1.35},
{"x":1979,"y":82,"s":0.35},{"x":1980,"y":82,"s":1}
]
},
"spacing": 2,
"bounds": "flush",
"resolve": {"legend": {"color": "independent", "size": "independent"}},
"hconcat": [
{
"width": 893,
"height": 1452,
"view": {"fill": "#EBEBEB", "stroke": null},
"encoding": {
"x": {"field": "x", "type": "quantitative",
"scale": {"domain": [1947.75, 2019.25], "nice": false, "zero": false},
"axis": {"title": null, "values": [1950, 1960, 1970, 1980, 1990, 2000, 2010], "format": "d",
"labelExpr": "datum.value % 20 == 0 ? datum.label : ''",
"domain": false, "grid": true, "gridColor": "#FFFFFF",
"gridWidth": {"condition": {"test": "datum.value % 20 == 0", "value": 2.2}, "value": 1.1},
"tickColor": "#333333", "tickWidth": 2, "tickSize": 7,
"tickOpacity": {"condition": {"test": "datum.value % 20 == 0", "value": 1}, "value": 0},
"labelFontSize": 22.5, "labelColor": "#4D4D4D", "labelFont": "Liberation Sans", "labelPadding": 7,
"labelOverlap": false, "labelFlush": false}},
"y": {"field": "y", "type": "quantitative",
"scale": {"domain": [19.25, 189.75], "nice": false, "zero": false},
"axis": {"title": null, "values": [25, 50, 75, 100, 125, 150, 175], "format": "d",
"labelExpr": "datum.value % 50 == 0 ? datum.label : ''",
"domain": false, "grid": true, "gridColor": "#FFFFFF",
"gridWidth": {"condition": {"test": "datum.value % 50 == 0", "value": 2.2}, "value": 1.1},
"tickColor": "#333333", "tickWidth": 2, "tickSize": 7,
"tickOpacity": {"condition": {"test": "datum.value % 50 == 0", "value": 1}, "value": 0},
"labelFontSize": 22.5, "labelColor": "#4D4D4D", "labelFont": "Liberation Sans", "labelPadding": 7,
"labelOverlap": false, "labelFlush": false}}
},
"layer": [
{"data": {"name": "pos"},
"mark": {"type": "circle", "color": "#000000", "opacity": 0},
"encoding": {
"size": {"field": "s", "type": "quantitative", "scale": {"domain": [0, 30], "range": [0, 1428]},
"legend": {"title": null, "values": [10, 20, 30], "orient": "none", "legendX": 990, "legendY": 579,
"symbolType": "circle", "symbolOpacity": 1, "symbolStrokeWidth": 0, "symbolFillColor": "#000000",
"labelFontSize": 22, "labelColor": "#000000", "labelFont": "Liberation Sans",
"labelOffset": 9, "rowPadding": 16, "padding": 0}}}},
{"data": {"name": "neg"},
"mark": {"type": "circle", "fillOpacity": 0.55, "strokeOpacity": 0.55, "strokeWidth": 1.2},
"encoding": {
"size": {"field": "s", "type": "quantitative"},
"color": {"datum": "<0", "type": "nominal",
"scale": {"domain": ["<0", ">=0"], "range": ["#F8766D", "#00BFC4"]},
"legend": {"title": ["percent", "difference"], "orient": "none", "legendX": 986, "legendY": 766,
"titleFontSize": 27, "titleFontWeight": "normal", "titleColor": "#000000", "titleFont": "Liberation Sans",
"titleLineHeight": 31, "titlePadding": 9,
"symbolType": "circle", "symbolSize": 1521, "symbolOpacity": 1, "symbolStrokeWidth": 0,
"labelFontSize": 22, "labelColor": "#000000", "labelFont": "Liberation Sans", "labelOffset": 12,
"rowPadding": 7, "padding": 0,
"encode": {"symbols": {"fillOpacity": {"value": 1}, "opacity": {"value": 1}, "strokeWidth": {"value": 0}}}}},
"stroke": {"datum": "<0", "type": "nominal",
"scale": {"domain": ["<0", ">=0"], "range": ["#F8766D", "#00BFC4"]}, "legend": null}}},
{"data": {"name": "pos"},
"mark": {"type": "circle", "fillOpacity": 0.55, "strokeOpacity": 0.55, "strokeWidth": 1.2},
"encoding": {
"size": {"field": "s", "type": "quantitative"},
"color": {"datum": ">=0", "type": "nominal"},
"stroke": {"datum": ">=0", "type": "nominal", "legend": null}}}
]
},
{
"width": 43,
"height": 1452,
"view": {"fill": "#D9D9D9", "stroke": null},
"data": {"values": [{"t": "AG1-AG1c"}]},
"mark": {"type": "text", "angle": 90, "fontSize": 22, "color": "#1A1A1A", "font": "Liberation Sans", "align": "center", "baseline": "middle"},
"encoding": {"text": {"field": "t", "type": "nominal"}}
}
]
}
